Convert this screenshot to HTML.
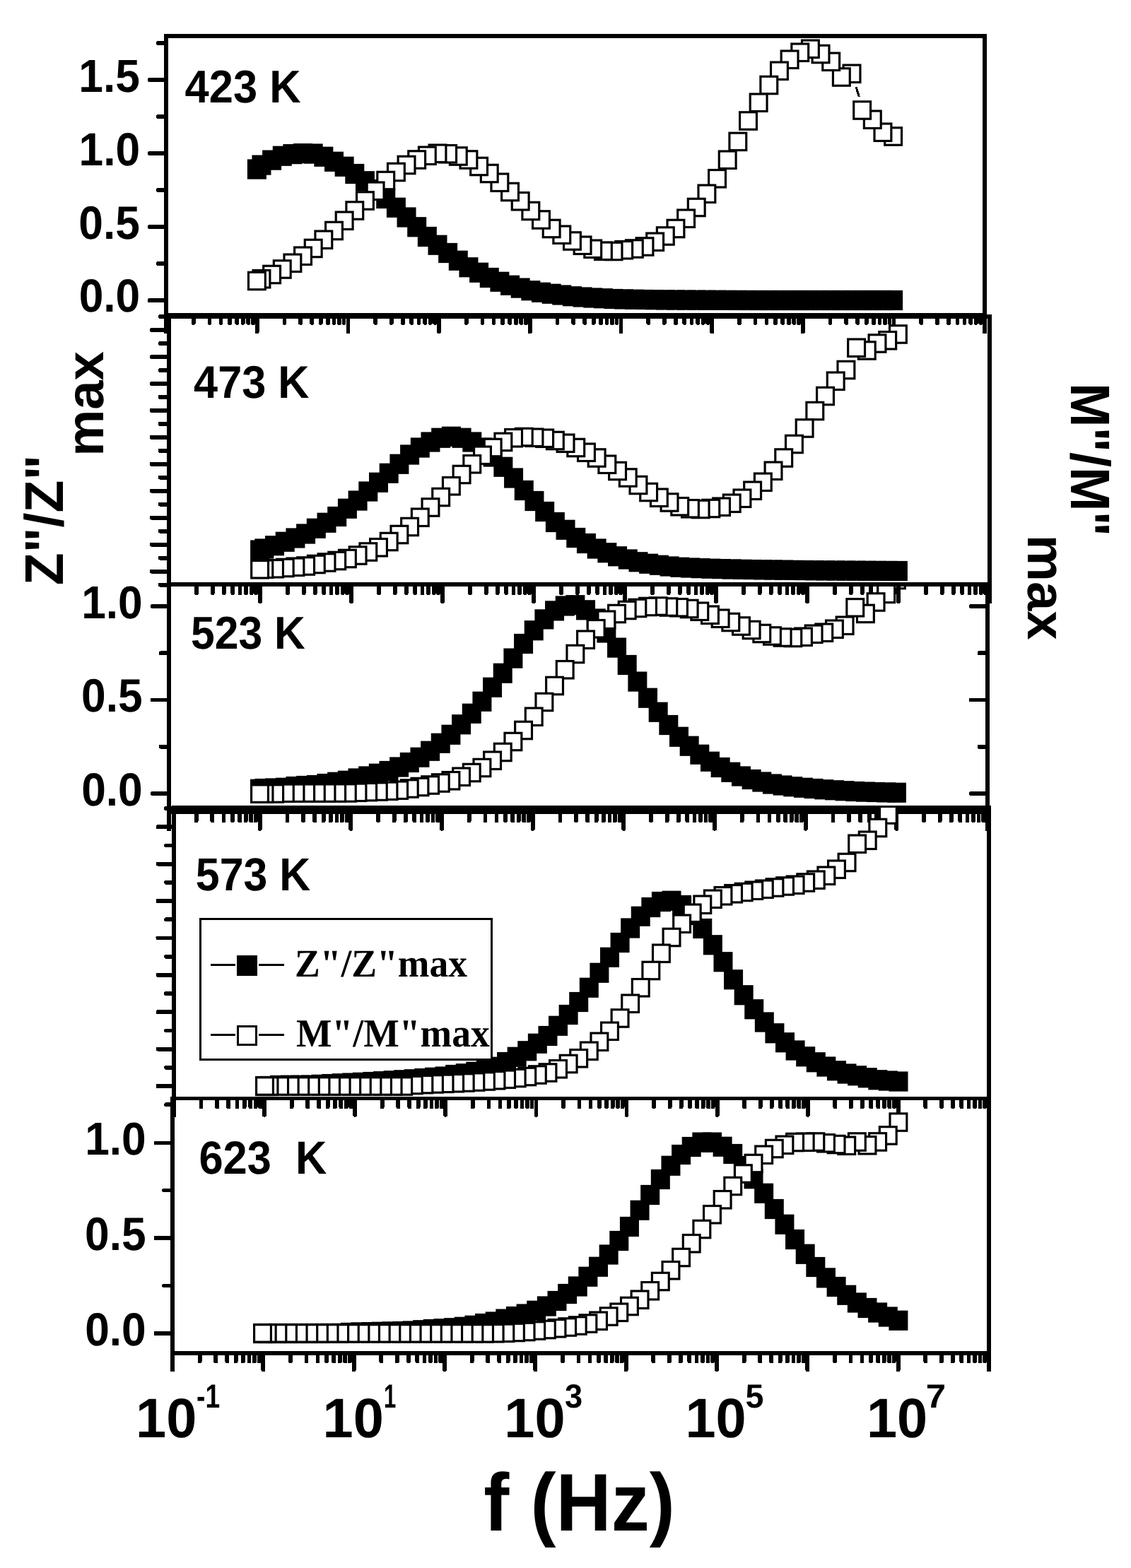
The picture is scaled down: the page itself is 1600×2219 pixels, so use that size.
<!DOCTYPE html>
<html lang="en"><head><meta charset="utf-8"><title>Z&quot;/Z&quot;max and M&quot;/M&quot;max vs f (Hz)</title>
<style>html,body{margin:0;padding:0;background:#fff}svg{display:block}</style></head>
<body>
<svg width="1600" height="2219" viewBox="0 0 1600 2219" shape-rendering="crispEdges" text-rendering="geometricPrecision">
<defs>
<clipPath id="c3"><rect x="230" y="830" width="1180" height="330"/></clipPath>
<clipPath id="c4"><rect x="230" y="1143" width="1180" height="420"/></clipPath>
</defs>
<rect x="0" y="0" width="1600" height="2219" fill="#fff"/>
<rect x="236.15" y="824.15" width="1163.70" height="5.70" fill="#000" />
<rect x="236.15" y="1146.15" width="1163.70" height="5.70" fill="#000" />
<rect x="236.15" y="824.15" width="5.70" height="351.45" fill="#000" />
<rect x="1394.15" y="824.15" width="5.70" height="351.45" fill="#000" />
<rect x="364.77" y="1149.00" width="5.80" height="26.60" rx="2" ry="2" fill="#000"/>
<rect x="493.44" y="1149.00" width="5.80" height="26.60" rx="2" ry="2" fill="#000"/>
<rect x="622.11" y="1149.00" width="5.80" height="26.60" rx="2" ry="2" fill="#000"/>
<rect x="750.78" y="1149.00" width="5.80" height="26.60" rx="2" ry="2" fill="#000"/>
<rect x="879.45" y="1149.00" width="5.80" height="26.60" rx="2" ry="2" fill="#000"/>
<rect x="1008.12" y="1149.00" width="5.80" height="26.60" rx="2" ry="2" fill="#000"/>
<rect x="1136.79" y="1149.00" width="5.80" height="26.60" rx="2" ry="2" fill="#000"/>
<rect x="274.83" y="1149.00" width="5.80" height="15.00" rx="2" ry="2" fill="#000"/>
<rect x="297.49" y="1149.00" width="5.80" height="15.00" rx="2" ry="2" fill="#000"/>
<rect x="313.57" y="1149.00" width="5.80" height="15.00" rx="2" ry="2" fill="#000"/>
<rect x="326.04" y="1149.00" width="5.80" height="15.00" rx="2" ry="2" fill="#000"/>
<rect x="336.22" y="1149.00" width="5.80" height="15.00" rx="2" ry="2" fill="#000"/>
<rect x="344.84" y="1149.00" width="5.80" height="15.00" rx="2" ry="2" fill="#000"/>
<rect x="352.30" y="1149.00" width="5.80" height="15.00" rx="2" ry="2" fill="#000"/>
<rect x="358.88" y="1149.00" width="5.80" height="15.00" rx="2" ry="2" fill="#000"/>
<rect x="403.50" y="1149.00" width="5.80" height="15.00" rx="2" ry="2" fill="#000"/>
<rect x="426.16" y="1149.00" width="5.80" height="15.00" rx="2" ry="2" fill="#000"/>
<rect x="442.24" y="1149.00" width="5.80" height="15.00" rx="2" ry="2" fill="#000"/>
<rect x="454.71" y="1149.00" width="5.80" height="15.00" rx="2" ry="2" fill="#000"/>
<rect x="464.89" y="1149.00" width="5.80" height="15.00" rx="2" ry="2" fill="#000"/>
<rect x="473.51" y="1149.00" width="5.80" height="15.00" rx="2" ry="2" fill="#000"/>
<rect x="480.97" y="1149.00" width="5.80" height="15.00" rx="2" ry="2" fill="#000"/>
<rect x="487.55" y="1149.00" width="5.80" height="15.00" rx="2" ry="2" fill="#000"/>
<rect x="532.17" y="1149.00" width="5.80" height="15.00" rx="2" ry="2" fill="#000"/>
<rect x="554.83" y="1149.00" width="5.80" height="15.00" rx="2" ry="2" fill="#000"/>
<rect x="570.91" y="1149.00" width="5.80" height="15.00" rx="2" ry="2" fill="#000"/>
<rect x="583.38" y="1149.00" width="5.80" height="15.00" rx="2" ry="2" fill="#000"/>
<rect x="593.56" y="1149.00" width="5.80" height="15.00" rx="2" ry="2" fill="#000"/>
<rect x="602.18" y="1149.00" width="5.80" height="15.00" rx="2" ry="2" fill="#000"/>
<rect x="609.64" y="1149.00" width="5.80" height="15.00" rx="2" ry="2" fill="#000"/>
<rect x="616.22" y="1149.00" width="5.80" height="15.00" rx="2" ry="2" fill="#000"/>
<rect x="660.84" y="1149.00" width="5.80" height="15.00" rx="2" ry="2" fill="#000"/>
<rect x="683.50" y="1149.00" width="5.80" height="15.00" rx="2" ry="2" fill="#000"/>
<rect x="699.58" y="1149.00" width="5.80" height="15.00" rx="2" ry="2" fill="#000"/>
<rect x="712.05" y="1149.00" width="5.80" height="15.00" rx="2" ry="2" fill="#000"/>
<rect x="722.23" y="1149.00" width="5.80" height="15.00" rx="2" ry="2" fill="#000"/>
<rect x="730.85" y="1149.00" width="5.80" height="15.00" rx="2" ry="2" fill="#000"/>
<rect x="738.31" y="1149.00" width="5.80" height="15.00" rx="2" ry="2" fill="#000"/>
<rect x="744.89" y="1149.00" width="5.80" height="15.00" rx="2" ry="2" fill="#000"/>
<rect x="789.51" y="1149.00" width="5.80" height="15.00" rx="2" ry="2" fill="#000"/>
<rect x="812.17" y="1149.00" width="5.80" height="15.00" rx="2" ry="2" fill="#000"/>
<rect x="828.25" y="1149.00" width="5.80" height="15.00" rx="2" ry="2" fill="#000"/>
<rect x="840.72" y="1149.00" width="5.80" height="15.00" rx="2" ry="2" fill="#000"/>
<rect x="850.90" y="1149.00" width="5.80" height="15.00" rx="2" ry="2" fill="#000"/>
<rect x="859.52" y="1149.00" width="5.80" height="15.00" rx="2" ry="2" fill="#000"/>
<rect x="866.98" y="1149.00" width="5.80" height="15.00" rx="2" ry="2" fill="#000"/>
<rect x="873.56" y="1149.00" width="5.80" height="15.00" rx="2" ry="2" fill="#000"/>
<rect x="918.18" y="1149.00" width="5.80" height="15.00" rx="2" ry="2" fill="#000"/>
<rect x="940.84" y="1149.00" width="5.80" height="15.00" rx="2" ry="2" fill="#000"/>
<rect x="956.92" y="1149.00" width="5.80" height="15.00" rx="2" ry="2" fill="#000"/>
<rect x="969.39" y="1149.00" width="5.80" height="15.00" rx="2" ry="2" fill="#000"/>
<rect x="979.57" y="1149.00" width="5.80" height="15.00" rx="2" ry="2" fill="#000"/>
<rect x="988.19" y="1149.00" width="5.80" height="15.00" rx="2" ry="2" fill="#000"/>
<rect x="995.65" y="1149.00" width="5.80" height="15.00" rx="2" ry="2" fill="#000"/>
<rect x="1002.23" y="1149.00" width="5.80" height="15.00" rx="2" ry="2" fill="#000"/>
<rect x="1046.85" y="1149.00" width="5.80" height="15.00" rx="2" ry="2" fill="#000"/>
<rect x="1069.51" y="1149.00" width="5.80" height="15.00" rx="2" ry="2" fill="#000"/>
<rect x="1085.59" y="1149.00" width="5.80" height="15.00" rx="2" ry="2" fill="#000"/>
<rect x="1098.06" y="1149.00" width="5.80" height="15.00" rx="2" ry="2" fill="#000"/>
<rect x="1108.24" y="1149.00" width="5.80" height="15.00" rx="2" ry="2" fill="#000"/>
<rect x="1116.86" y="1149.00" width="5.80" height="15.00" rx="2" ry="2" fill="#000"/>
<rect x="1124.32" y="1149.00" width="5.80" height="15.00" rx="2" ry="2" fill="#000"/>
<rect x="1130.90" y="1149.00" width="5.80" height="15.00" rx="2" ry="2" fill="#000"/>
<rect x="1175.52" y="1149.00" width="5.80" height="15.00" rx="2" ry="2" fill="#000"/>
<rect x="1198.18" y="1149.00" width="5.80" height="15.00" rx="2" ry="2" fill="#000"/>
<rect x="1214.26" y="1149.00" width="5.80" height="15.00" rx="2" ry="2" fill="#000"/>
<rect x="1226.73" y="1149.00" width="5.80" height="15.00" rx="2" ry="2" fill="#000"/>
<rect x="1236.91" y="1149.00" width="5.80" height="15.00" rx="2" ry="2" fill="#000"/>
<rect x="1245.53" y="1149.00" width="5.80" height="15.00" rx="2" ry="2" fill="#000"/>
<rect x="1252.99" y="1149.00" width="5.80" height="15.00" rx="2" ry="2" fill="#000"/>
<rect x="1259.57" y="1149.00" width="5.80" height="15.00" rx="2" ry="2" fill="#000"/>
<rect x="1304.19" y="1149.00" width="5.80" height="15.00" rx="2" ry="2" fill="#000"/>
<rect x="1326.85" y="1149.00" width="5.80" height="15.00" rx="2" ry="2" fill="#000"/>
<rect x="1342.93" y="1149.00" width="5.80" height="15.00" rx="2" ry="2" fill="#000"/>
<rect x="1355.40" y="1149.00" width="5.80" height="15.00" rx="2" ry="2" fill="#000"/>
<rect x="1365.58" y="1149.00" width="5.80" height="15.00" rx="2" ry="2" fill="#000"/>
<rect x="1374.20" y="1149.00" width="5.80" height="15.00" rx="2" ry="2" fill="#000"/>
<rect x="1381.66" y="1149.00" width="5.80" height="15.00" rx="2" ry="2" fill="#000"/>
<rect x="1388.24" y="1149.00" width="5.80" height="15.00" rx="2" ry="2" fill="#000"/>
<rect x="1265.46" y="1149.00" width="5.80" height="26.60" rx="2" ry="2" fill="#000"/>
<rect x="213.00" y="855.10" width="26.00" height="5.80" rx="2" ry="2" fill="#000"/>
<rect x="213.00" y="987.60" width="26.00" height="5.80" rx="2" ry="2" fill="#000"/>
<rect x="213.00" y="1120.10" width="26.00" height="5.80" rx="2" ry="2" fill="#000"/>
<rect x="225.00" y="921.35" width="14.00" height="5.80" rx="2" ry="2" fill="#000"/>
<rect x="225.00" y="1053.85" width="14.00" height="5.80" rx="2" ry="2" fill="#000"/>
<rect x="1370.75" y="855.10" width="26.25" height="5.80" rx="2" ry="2" fill="#000"/>
<rect x="1370.75" y="987.60" width="26.25" height="5.80" rx="2" ry="2" fill="#000"/>
<rect x="1370.75" y="1120.10" width="26.25" height="5.80" rx="2" ry="2" fill="#000"/>
<rect x="1382.50" y="921.35" width="14.50" height="5.80" rx="2" ry="2" fill="#000"/>
<rect x="1382.50" y="1053.85" width="14.50" height="5.80" rx="2" ry="2" fill="#000"/>
<rect x="232.25" y="48.15" width="1163.70" height="5.70" fill="#000" />
<rect x="232.25" y="442.55" width="1163.70" height="5.70" fill="#000" />
<rect x="232.25" y="48.15" width="5.70" height="423.85" fill="#000" />
<rect x="1390.25" y="48.15" width="5.70" height="423.85" fill="#000" />
<rect x="360.87" y="445.40" width="5.80" height="26.60" rx="2" ry="2" fill="#000"/>
<rect x="489.54" y="445.40" width="5.80" height="26.60" rx="2" ry="2" fill="#000"/>
<rect x="618.21" y="445.40" width="5.80" height="26.60" rx="2" ry="2" fill="#000"/>
<rect x="746.88" y="445.40" width="5.80" height="26.60" rx="2" ry="2" fill="#000"/>
<rect x="875.55" y="445.40" width="5.80" height="26.60" rx="2" ry="2" fill="#000"/>
<rect x="1004.22" y="445.40" width="5.80" height="26.60" rx="2" ry="2" fill="#000"/>
<rect x="1132.89" y="445.40" width="5.80" height="26.60" rx="2" ry="2" fill="#000"/>
<rect x="270.93" y="445.40" width="5.80" height="14.35" rx="2" ry="2" fill="#000"/>
<rect x="293.59" y="445.40" width="5.80" height="14.35" rx="2" ry="2" fill="#000"/>
<rect x="309.67" y="445.40" width="5.80" height="14.35" rx="2" ry="2" fill="#000"/>
<rect x="322.14" y="445.40" width="5.80" height="14.35" rx="2" ry="2" fill="#000"/>
<rect x="332.32" y="445.40" width="5.80" height="14.35" rx="2" ry="2" fill="#000"/>
<rect x="340.94" y="445.40" width="5.80" height="14.35" rx="2" ry="2" fill="#000"/>
<rect x="348.40" y="445.40" width="5.80" height="14.35" rx="2" ry="2" fill="#000"/>
<rect x="354.98" y="445.40" width="5.80" height="14.35" rx="2" ry="2" fill="#000"/>
<rect x="399.60" y="445.40" width="5.80" height="14.35" rx="2" ry="2" fill="#000"/>
<rect x="422.26" y="445.40" width="5.80" height="14.35" rx="2" ry="2" fill="#000"/>
<rect x="438.34" y="445.40" width="5.80" height="14.35" rx="2" ry="2" fill="#000"/>
<rect x="450.81" y="445.40" width="5.80" height="14.35" rx="2" ry="2" fill="#000"/>
<rect x="460.99" y="445.40" width="5.80" height="14.35" rx="2" ry="2" fill="#000"/>
<rect x="469.61" y="445.40" width="5.80" height="14.35" rx="2" ry="2" fill="#000"/>
<rect x="477.07" y="445.40" width="5.80" height="14.35" rx="2" ry="2" fill="#000"/>
<rect x="483.65" y="445.40" width="5.80" height="14.35" rx="2" ry="2" fill="#000"/>
<rect x="528.27" y="445.40" width="5.80" height="14.35" rx="2" ry="2" fill="#000"/>
<rect x="550.93" y="445.40" width="5.80" height="14.35" rx="2" ry="2" fill="#000"/>
<rect x="567.01" y="445.40" width="5.80" height="14.35" rx="2" ry="2" fill="#000"/>
<rect x="579.48" y="445.40" width="5.80" height="14.35" rx="2" ry="2" fill="#000"/>
<rect x="589.66" y="445.40" width="5.80" height="14.35" rx="2" ry="2" fill="#000"/>
<rect x="598.28" y="445.40" width="5.80" height="14.35" rx="2" ry="2" fill="#000"/>
<rect x="605.74" y="445.40" width="5.80" height="14.35" rx="2" ry="2" fill="#000"/>
<rect x="612.32" y="445.40" width="5.80" height="14.35" rx="2" ry="2" fill="#000"/>
<rect x="656.94" y="445.40" width="5.80" height="14.35" rx="2" ry="2" fill="#000"/>
<rect x="679.60" y="445.40" width="5.80" height="14.35" rx="2" ry="2" fill="#000"/>
<rect x="695.68" y="445.40" width="5.80" height="14.35" rx="2" ry="2" fill="#000"/>
<rect x="708.15" y="445.40" width="5.80" height="14.35" rx="2" ry="2" fill="#000"/>
<rect x="718.33" y="445.40" width="5.80" height="14.35" rx="2" ry="2" fill="#000"/>
<rect x="726.95" y="445.40" width="5.80" height="14.35" rx="2" ry="2" fill="#000"/>
<rect x="734.41" y="445.40" width="5.80" height="14.35" rx="2" ry="2" fill="#000"/>
<rect x="740.99" y="445.40" width="5.80" height="14.35" rx="2" ry="2" fill="#000"/>
<rect x="785.61" y="445.40" width="5.80" height="14.35" rx="2" ry="2" fill="#000"/>
<rect x="808.27" y="445.40" width="5.80" height="14.35" rx="2" ry="2" fill="#000"/>
<rect x="824.35" y="445.40" width="5.80" height="14.35" rx="2" ry="2" fill="#000"/>
<rect x="836.82" y="445.40" width="5.80" height="14.35" rx="2" ry="2" fill="#000"/>
<rect x="847.00" y="445.40" width="5.80" height="14.35" rx="2" ry="2" fill="#000"/>
<rect x="855.62" y="445.40" width="5.80" height="14.35" rx="2" ry="2" fill="#000"/>
<rect x="863.08" y="445.40" width="5.80" height="14.35" rx="2" ry="2" fill="#000"/>
<rect x="869.66" y="445.40" width="5.80" height="14.35" rx="2" ry="2" fill="#000"/>
<rect x="914.28" y="445.40" width="5.80" height="14.35" rx="2" ry="2" fill="#000"/>
<rect x="936.94" y="445.40" width="5.80" height="14.35" rx="2" ry="2" fill="#000"/>
<rect x="953.02" y="445.40" width="5.80" height="14.35" rx="2" ry="2" fill="#000"/>
<rect x="965.49" y="445.40" width="5.80" height="14.35" rx="2" ry="2" fill="#000"/>
<rect x="975.67" y="445.40" width="5.80" height="14.35" rx="2" ry="2" fill="#000"/>
<rect x="984.29" y="445.40" width="5.80" height="14.35" rx="2" ry="2" fill="#000"/>
<rect x="991.75" y="445.40" width="5.80" height="14.35" rx="2" ry="2" fill="#000"/>
<rect x="998.33" y="445.40" width="5.80" height="14.35" rx="2" ry="2" fill="#000"/>
<rect x="1042.95" y="445.40" width="5.80" height="14.35" rx="2" ry="2" fill="#000"/>
<rect x="1065.61" y="445.40" width="5.80" height="14.35" rx="2" ry="2" fill="#000"/>
<rect x="1081.69" y="445.40" width="5.80" height="14.35" rx="2" ry="2" fill="#000"/>
<rect x="1094.16" y="445.40" width="5.80" height="14.35" rx="2" ry="2" fill="#000"/>
<rect x="1104.34" y="445.40" width="5.80" height="14.35" rx="2" ry="2" fill="#000"/>
<rect x="1112.96" y="445.40" width="5.80" height="14.35" rx="2" ry="2" fill="#000"/>
<rect x="1120.42" y="445.40" width="5.80" height="14.35" rx="2" ry="2" fill="#000"/>
<rect x="1127.00" y="445.40" width="5.80" height="14.35" rx="2" ry="2" fill="#000"/>
<rect x="1171.62" y="445.40" width="5.80" height="14.35" rx="2" ry="2" fill="#000"/>
<rect x="1194.28" y="445.40" width="5.80" height="14.35" rx="2" ry="2" fill="#000"/>
<rect x="1210.36" y="445.40" width="5.80" height="14.35" rx="2" ry="2" fill="#000"/>
<rect x="1222.83" y="445.40" width="5.80" height="14.35" rx="2" ry="2" fill="#000"/>
<rect x="1233.01" y="445.40" width="5.80" height="14.35" rx="2" ry="2" fill="#000"/>
<rect x="1241.63" y="445.40" width="5.80" height="14.35" rx="2" ry="2" fill="#000"/>
<rect x="1249.09" y="445.40" width="5.80" height="14.35" rx="2" ry="2" fill="#000"/>
<rect x="1255.67" y="445.40" width="5.80" height="14.35" rx="2" ry="2" fill="#000"/>
<rect x="1300.29" y="445.40" width="5.80" height="14.35" rx="2" ry="2" fill="#000"/>
<rect x="1322.95" y="445.40" width="5.80" height="14.35" rx="2" ry="2" fill="#000"/>
<rect x="1339.03" y="445.40" width="5.80" height="14.35" rx="2" ry="2" fill="#000"/>
<rect x="1351.50" y="445.40" width="5.80" height="14.35" rx="2" ry="2" fill="#000"/>
<rect x="1361.68" y="445.40" width="5.80" height="14.35" rx="2" ry="2" fill="#000"/>
<rect x="1370.30" y="445.40" width="5.80" height="14.35" rx="2" ry="2" fill="#000"/>
<rect x="1377.76" y="445.40" width="5.80" height="14.35" rx="2" ry="2" fill="#000"/>
<rect x="1384.34" y="445.40" width="5.80" height="14.35" rx="2" ry="2" fill="#000"/>
<rect x="1261.56" y="445.40" width="5.80" height="26.60" rx="2" ry="2" fill="#000"/>
<rect x="209.00" y="110.10" width="26.10" height="5.80" rx="2" ry="2" fill="#000"/>
<rect x="209.00" y="214.10" width="26.10" height="5.80" rx="2" ry="2" fill="#000"/>
<rect x="209.00" y="318.10" width="26.10" height="5.80" rx="2" ry="2" fill="#000"/>
<rect x="209.00" y="422.20" width="26.10" height="5.80" rx="2" ry="2" fill="#000"/>
<rect x="221.00" y="58.10" width="14.10" height="5.80" rx="2" ry="2" fill="#000"/>
<rect x="221.00" y="162.10" width="14.10" height="5.80" rx="2" ry="2" fill="#000"/>
<rect x="221.00" y="266.10" width="14.10" height="5.80" rx="2" ry="2" fill="#000"/>
<rect x="221.00" y="370.10" width="14.10" height="5.80" rx="2" ry="2" fill="#000"/>
<rect x="236.25" y="445.15" width="1166.60" height="5.70" fill="#000" />
<rect x="236.25" y="824.15" width="1166.60" height="5.70" fill="#000" />
<rect x="236.25" y="445.15" width="5.70" height="408.60" fill="#000" />
<rect x="1397.15" y="445.15" width="5.70" height="408.60" fill="#000" />
<rect x="365.20" y="827.00" width="5.80" height="26.75" rx="2" ry="2" fill="#000"/>
<rect x="494.20" y="827.00" width="5.80" height="26.75" rx="2" ry="2" fill="#000"/>
<rect x="623.20" y="827.00" width="5.80" height="26.75" rx="2" ry="2" fill="#000"/>
<rect x="752.20" y="827.00" width="5.80" height="26.75" rx="2" ry="2" fill="#000"/>
<rect x="881.20" y="827.00" width="5.80" height="26.75" rx="2" ry="2" fill="#000"/>
<rect x="1010.20" y="827.00" width="5.80" height="26.75" rx="2" ry="2" fill="#000"/>
<rect x="1139.20" y="827.00" width="5.80" height="26.75" rx="2" ry="2" fill="#000"/>
<rect x="275.03" y="827.00" width="5.80" height="14.90" rx="2" ry="2" fill="#000"/>
<rect x="297.75" y="827.00" width="5.80" height="14.90" rx="2" ry="2" fill="#000"/>
<rect x="313.87" y="827.00" width="5.80" height="14.90" rx="2" ry="2" fill="#000"/>
<rect x="326.37" y="827.00" width="5.80" height="14.90" rx="2" ry="2" fill="#000"/>
<rect x="336.58" y="827.00" width="5.80" height="14.90" rx="2" ry="2" fill="#000"/>
<rect x="345.22" y="827.00" width="5.80" height="14.90" rx="2" ry="2" fill="#000"/>
<rect x="352.70" y="827.00" width="5.80" height="14.90" rx="2" ry="2" fill="#000"/>
<rect x="359.30" y="827.00" width="5.80" height="14.90" rx="2" ry="2" fill="#000"/>
<rect x="404.03" y="827.00" width="5.80" height="14.90" rx="2" ry="2" fill="#000"/>
<rect x="426.75" y="827.00" width="5.80" height="14.90" rx="2" ry="2" fill="#000"/>
<rect x="442.87" y="827.00" width="5.80" height="14.90" rx="2" ry="2" fill="#000"/>
<rect x="455.37" y="827.00" width="5.80" height="14.90" rx="2" ry="2" fill="#000"/>
<rect x="465.58" y="827.00" width="5.80" height="14.90" rx="2" ry="2" fill="#000"/>
<rect x="474.22" y="827.00" width="5.80" height="14.90" rx="2" ry="2" fill="#000"/>
<rect x="481.70" y="827.00" width="5.80" height="14.90" rx="2" ry="2" fill="#000"/>
<rect x="488.30" y="827.00" width="5.80" height="14.90" rx="2" ry="2" fill="#000"/>
<rect x="533.03" y="827.00" width="5.80" height="14.90" rx="2" ry="2" fill="#000"/>
<rect x="555.75" y="827.00" width="5.80" height="14.90" rx="2" ry="2" fill="#000"/>
<rect x="571.87" y="827.00" width="5.80" height="14.90" rx="2" ry="2" fill="#000"/>
<rect x="584.37" y="827.00" width="5.80" height="14.90" rx="2" ry="2" fill="#000"/>
<rect x="594.58" y="827.00" width="5.80" height="14.90" rx="2" ry="2" fill="#000"/>
<rect x="603.22" y="827.00" width="5.80" height="14.90" rx="2" ry="2" fill="#000"/>
<rect x="610.70" y="827.00" width="5.80" height="14.90" rx="2" ry="2" fill="#000"/>
<rect x="617.30" y="827.00" width="5.80" height="14.90" rx="2" ry="2" fill="#000"/>
<rect x="662.03" y="827.00" width="5.80" height="14.90" rx="2" ry="2" fill="#000"/>
<rect x="684.75" y="827.00" width="5.80" height="14.90" rx="2" ry="2" fill="#000"/>
<rect x="700.87" y="827.00" width="5.80" height="14.90" rx="2" ry="2" fill="#000"/>
<rect x="713.37" y="827.00" width="5.80" height="14.90" rx="2" ry="2" fill="#000"/>
<rect x="723.58" y="827.00" width="5.80" height="14.90" rx="2" ry="2" fill="#000"/>
<rect x="732.22" y="827.00" width="5.80" height="14.90" rx="2" ry="2" fill="#000"/>
<rect x="739.70" y="827.00" width="5.80" height="14.90" rx="2" ry="2" fill="#000"/>
<rect x="746.30" y="827.00" width="5.80" height="14.90" rx="2" ry="2" fill="#000"/>
<rect x="791.03" y="827.00" width="5.80" height="14.90" rx="2" ry="2" fill="#000"/>
<rect x="813.75" y="827.00" width="5.80" height="14.90" rx="2" ry="2" fill="#000"/>
<rect x="829.87" y="827.00" width="5.80" height="14.90" rx="2" ry="2" fill="#000"/>
<rect x="842.37" y="827.00" width="5.80" height="14.90" rx="2" ry="2" fill="#000"/>
<rect x="852.58" y="827.00" width="5.80" height="14.90" rx="2" ry="2" fill="#000"/>
<rect x="861.22" y="827.00" width="5.80" height="14.90" rx="2" ry="2" fill="#000"/>
<rect x="868.70" y="827.00" width="5.80" height="14.90" rx="2" ry="2" fill="#000"/>
<rect x="875.30" y="827.00" width="5.80" height="14.90" rx="2" ry="2" fill="#000"/>
<rect x="920.03" y="827.00" width="5.80" height="14.90" rx="2" ry="2" fill="#000"/>
<rect x="942.75" y="827.00" width="5.80" height="14.90" rx="2" ry="2" fill="#000"/>
<rect x="958.87" y="827.00" width="5.80" height="14.90" rx="2" ry="2" fill="#000"/>
<rect x="971.37" y="827.00" width="5.80" height="14.90" rx="2" ry="2" fill="#000"/>
<rect x="981.58" y="827.00" width="5.80" height="14.90" rx="2" ry="2" fill="#000"/>
<rect x="990.22" y="827.00" width="5.80" height="14.90" rx="2" ry="2" fill="#000"/>
<rect x="997.70" y="827.00" width="5.80" height="14.90" rx="2" ry="2" fill="#000"/>
<rect x="1004.30" y="827.00" width="5.80" height="14.90" rx="2" ry="2" fill="#000"/>
<rect x="1049.03" y="827.00" width="5.80" height="14.90" rx="2" ry="2" fill="#000"/>
<rect x="1071.75" y="827.00" width="5.80" height="14.90" rx="2" ry="2" fill="#000"/>
<rect x="1087.87" y="827.00" width="5.80" height="14.90" rx="2" ry="2" fill="#000"/>
<rect x="1100.37" y="827.00" width="5.80" height="14.90" rx="2" ry="2" fill="#000"/>
<rect x="1110.58" y="827.00" width="5.80" height="14.90" rx="2" ry="2" fill="#000"/>
<rect x="1119.22" y="827.00" width="5.80" height="14.90" rx="2" ry="2" fill="#000"/>
<rect x="1126.70" y="827.00" width="5.80" height="14.90" rx="2" ry="2" fill="#000"/>
<rect x="1133.30" y="827.00" width="5.80" height="14.90" rx="2" ry="2" fill="#000"/>
<rect x="1178.03" y="827.00" width="5.80" height="14.90" rx="2" ry="2" fill="#000"/>
<rect x="1200.75" y="827.00" width="5.80" height="14.90" rx="2" ry="2" fill="#000"/>
<rect x="1216.87" y="827.00" width="5.80" height="14.90" rx="2" ry="2" fill="#000"/>
<rect x="1229.37" y="827.00" width="5.80" height="14.90" rx="2" ry="2" fill="#000"/>
<rect x="1239.58" y="827.00" width="5.80" height="14.90" rx="2" ry="2" fill="#000"/>
<rect x="1248.22" y="827.00" width="5.80" height="14.90" rx="2" ry="2" fill="#000"/>
<rect x="1255.70" y="827.00" width="5.80" height="14.90" rx="2" ry="2" fill="#000"/>
<rect x="1262.30" y="827.00" width="5.80" height="14.90" rx="2" ry="2" fill="#000"/>
<rect x="1307.03" y="827.00" width="5.80" height="14.90" rx="2" ry="2" fill="#000"/>
<rect x="1329.75" y="827.00" width="5.80" height="14.90" rx="2" ry="2" fill="#000"/>
<rect x="1345.87" y="827.00" width="5.80" height="14.90" rx="2" ry="2" fill="#000"/>
<rect x="1358.37" y="827.00" width="5.80" height="14.90" rx="2" ry="2" fill="#000"/>
<rect x="1368.58" y="827.00" width="5.80" height="14.90" rx="2" ry="2" fill="#000"/>
<rect x="1377.22" y="827.00" width="5.80" height="14.90" rx="2" ry="2" fill="#000"/>
<rect x="1384.70" y="827.00" width="5.80" height="14.90" rx="2" ry="2" fill="#000"/>
<rect x="1391.30" y="827.00" width="5.80" height="14.90" rx="2" ry="2" fill="#000"/>
<rect x="1268.20" y="827.00" width="5.80" height="26.75" rx="2" ry="2" fill="#000"/>
<rect x="212.00" y="464.08" width="27.10" height="5.80" rx="2" ry="2" fill="#000"/>
<rect x="212.00" y="502.04" width="27.10" height="5.80" rx="2" ry="2" fill="#000"/>
<rect x="212.00" y="540.00" width="27.10" height="5.80" rx="2" ry="2" fill="#000"/>
<rect x="212.00" y="577.96" width="27.10" height="5.80" rx="2" ry="2" fill="#000"/>
<rect x="212.00" y="615.92" width="27.10" height="5.80" rx="2" ry="2" fill="#000"/>
<rect x="212.00" y="653.88" width="27.10" height="5.80" rx="2" ry="2" fill="#000"/>
<rect x="212.00" y="691.84" width="27.10" height="5.80" rx="2" ry="2" fill="#000"/>
<rect x="212.00" y="729.80" width="27.10" height="5.80" rx="2" ry="2" fill="#000"/>
<rect x="212.00" y="767.76" width="27.10" height="5.80" rx="2" ry="2" fill="#000"/>
<rect x="212.00" y="805.72" width="27.10" height="5.80" rx="2" ry="2" fill="#000"/>
<rect x="224.00" y="445.10" width="15.10" height="5.80" rx="2" ry="2" fill="#000"/>
<rect x="224.00" y="483.06" width="15.10" height="5.80" rx="2" ry="2" fill="#000"/>
<rect x="224.00" y="521.02" width="15.10" height="5.80" rx="2" ry="2" fill="#000"/>
<rect x="224.00" y="558.98" width="15.10" height="5.80" rx="2" ry="2" fill="#000"/>
<rect x="224.00" y="596.94" width="15.10" height="5.80" rx="2" ry="2" fill="#000"/>
<rect x="224.00" y="634.90" width="15.10" height="5.80" rx="2" ry="2" fill="#000"/>
<rect x="224.00" y="672.86" width="15.10" height="5.80" rx="2" ry="2" fill="#000"/>
<rect x="224.00" y="710.82" width="15.10" height="5.80" rx="2" ry="2" fill="#000"/>
<rect x="224.00" y="748.78" width="15.10" height="5.80" rx="2" ry="2" fill="#000"/>
<rect x="224.00" y="786.74" width="15.10" height="5.80" rx="2" ry="2" fill="#000"/>
<rect x="224.00" y="824.70" width="15.10" height="5.80" rx="2" ry="2" fill="#000"/>
<rect x="243.15" y="1140.45" width="1158.70" height="5.70" fill="#000" />
<rect x="243.15" y="1551.55" width="1158.70" height="5.70" fill="#000" />
<rect x="243.15" y="1140.45" width="5.70" height="440.15" fill="#000" />
<rect x="1396.15" y="1140.45" width="5.70" height="440.15" fill="#000" />
<rect x="371.20" y="1554.40" width="5.80" height="26.20" rx="2" ry="2" fill="#000"/>
<rect x="499.30" y="1554.40" width="5.80" height="26.20" rx="2" ry="2" fill="#000"/>
<rect x="627.40" y="1554.40" width="5.80" height="26.20" rx="2" ry="2" fill="#000"/>
<rect x="755.50" y="1554.40" width="5.80" height="26.20" rx="2" ry="2" fill="#000"/>
<rect x="883.60" y="1554.40" width="5.80" height="26.20" rx="2" ry="2" fill="#000"/>
<rect x="1011.70" y="1554.40" width="5.80" height="26.20" rx="2" ry="2" fill="#000"/>
<rect x="1139.80" y="1554.40" width="5.80" height="26.20" rx="2" ry="2" fill="#000"/>
<rect x="281.66" y="1554.40" width="5.80" height="14.60" rx="2" ry="2" fill="#000"/>
<rect x="304.22" y="1554.40" width="5.80" height="14.60" rx="2" ry="2" fill="#000"/>
<rect x="320.22" y="1554.40" width="5.80" height="14.60" rx="2" ry="2" fill="#000"/>
<rect x="332.64" y="1554.40" width="5.80" height="14.60" rx="2" ry="2" fill="#000"/>
<rect x="342.78" y="1554.40" width="5.80" height="14.60" rx="2" ry="2" fill="#000"/>
<rect x="351.36" y="1554.40" width="5.80" height="14.60" rx="2" ry="2" fill="#000"/>
<rect x="358.79" y="1554.40" width="5.80" height="14.60" rx="2" ry="2" fill="#000"/>
<rect x="365.34" y="1554.40" width="5.80" height="14.60" rx="2" ry="2" fill="#000"/>
<rect x="409.76" y="1554.40" width="5.80" height="14.60" rx="2" ry="2" fill="#000"/>
<rect x="432.32" y="1554.40" width="5.80" height="14.60" rx="2" ry="2" fill="#000"/>
<rect x="448.32" y="1554.40" width="5.80" height="14.60" rx="2" ry="2" fill="#000"/>
<rect x="460.74" y="1554.40" width="5.80" height="14.60" rx="2" ry="2" fill="#000"/>
<rect x="470.88" y="1554.40" width="5.80" height="14.60" rx="2" ry="2" fill="#000"/>
<rect x="479.46" y="1554.40" width="5.80" height="14.60" rx="2" ry="2" fill="#000"/>
<rect x="486.89" y="1554.40" width="5.80" height="14.60" rx="2" ry="2" fill="#000"/>
<rect x="493.44" y="1554.40" width="5.80" height="14.60" rx="2" ry="2" fill="#000"/>
<rect x="537.86" y="1554.40" width="5.80" height="14.60" rx="2" ry="2" fill="#000"/>
<rect x="560.42" y="1554.40" width="5.80" height="14.60" rx="2" ry="2" fill="#000"/>
<rect x="576.42" y="1554.40" width="5.80" height="14.60" rx="2" ry="2" fill="#000"/>
<rect x="588.84" y="1554.40" width="5.80" height="14.60" rx="2" ry="2" fill="#000"/>
<rect x="598.98" y="1554.40" width="5.80" height="14.60" rx="2" ry="2" fill="#000"/>
<rect x="607.56" y="1554.40" width="5.80" height="14.60" rx="2" ry="2" fill="#000"/>
<rect x="614.99" y="1554.40" width="5.80" height="14.60" rx="2" ry="2" fill="#000"/>
<rect x="621.54" y="1554.40" width="5.80" height="14.60" rx="2" ry="2" fill="#000"/>
<rect x="665.96" y="1554.40" width="5.80" height="14.60" rx="2" ry="2" fill="#000"/>
<rect x="688.52" y="1554.40" width="5.80" height="14.60" rx="2" ry="2" fill="#000"/>
<rect x="704.52" y="1554.40" width="5.80" height="14.60" rx="2" ry="2" fill="#000"/>
<rect x="716.94" y="1554.40" width="5.80" height="14.60" rx="2" ry="2" fill="#000"/>
<rect x="727.08" y="1554.40" width="5.80" height="14.60" rx="2" ry="2" fill="#000"/>
<rect x="735.66" y="1554.40" width="5.80" height="14.60" rx="2" ry="2" fill="#000"/>
<rect x="743.09" y="1554.40" width="5.80" height="14.60" rx="2" ry="2" fill="#000"/>
<rect x="749.64" y="1554.40" width="5.80" height="14.60" rx="2" ry="2" fill="#000"/>
<rect x="794.06" y="1554.40" width="5.80" height="14.60" rx="2" ry="2" fill="#000"/>
<rect x="816.62" y="1554.40" width="5.80" height="14.60" rx="2" ry="2" fill="#000"/>
<rect x="832.62" y="1554.40" width="5.80" height="14.60" rx="2" ry="2" fill="#000"/>
<rect x="845.04" y="1554.40" width="5.80" height="14.60" rx="2" ry="2" fill="#000"/>
<rect x="855.18" y="1554.40" width="5.80" height="14.60" rx="2" ry="2" fill="#000"/>
<rect x="863.76" y="1554.40" width="5.80" height="14.60" rx="2" ry="2" fill="#000"/>
<rect x="871.19" y="1554.40" width="5.80" height="14.60" rx="2" ry="2" fill="#000"/>
<rect x="877.74" y="1554.40" width="5.80" height="14.60" rx="2" ry="2" fill="#000"/>
<rect x="922.16" y="1554.40" width="5.80" height="14.60" rx="2" ry="2" fill="#000"/>
<rect x="944.72" y="1554.40" width="5.80" height="14.60" rx="2" ry="2" fill="#000"/>
<rect x="960.72" y="1554.40" width="5.80" height="14.60" rx="2" ry="2" fill="#000"/>
<rect x="973.14" y="1554.40" width="5.80" height="14.60" rx="2" ry="2" fill="#000"/>
<rect x="983.28" y="1554.40" width="5.80" height="14.60" rx="2" ry="2" fill="#000"/>
<rect x="991.86" y="1554.40" width="5.80" height="14.60" rx="2" ry="2" fill="#000"/>
<rect x="999.29" y="1554.40" width="5.80" height="14.60" rx="2" ry="2" fill="#000"/>
<rect x="1005.84" y="1554.40" width="5.80" height="14.60" rx="2" ry="2" fill="#000"/>
<rect x="1050.26" y="1554.40" width="5.80" height="14.60" rx="2" ry="2" fill="#000"/>
<rect x="1072.82" y="1554.40" width="5.80" height="14.60" rx="2" ry="2" fill="#000"/>
<rect x="1088.82" y="1554.40" width="5.80" height="14.60" rx="2" ry="2" fill="#000"/>
<rect x="1101.24" y="1554.40" width="5.80" height="14.60" rx="2" ry="2" fill="#000"/>
<rect x="1111.38" y="1554.40" width="5.80" height="14.60" rx="2" ry="2" fill="#000"/>
<rect x="1119.96" y="1554.40" width="5.80" height="14.60" rx="2" ry="2" fill="#000"/>
<rect x="1127.39" y="1554.40" width="5.80" height="14.60" rx="2" ry="2" fill="#000"/>
<rect x="1133.94" y="1554.40" width="5.80" height="14.60" rx="2" ry="2" fill="#000"/>
<rect x="1178.36" y="1554.40" width="5.80" height="14.60" rx="2" ry="2" fill="#000"/>
<rect x="1200.92" y="1554.40" width="5.80" height="14.60" rx="2" ry="2" fill="#000"/>
<rect x="1216.92" y="1554.40" width="5.80" height="14.60" rx="2" ry="2" fill="#000"/>
<rect x="1229.34" y="1554.40" width="5.80" height="14.60" rx="2" ry="2" fill="#000"/>
<rect x="1239.48" y="1554.40" width="5.80" height="14.60" rx="2" ry="2" fill="#000"/>
<rect x="1248.06" y="1554.40" width="5.80" height="14.60" rx="2" ry="2" fill="#000"/>
<rect x="1255.49" y="1554.40" width="5.80" height="14.60" rx="2" ry="2" fill="#000"/>
<rect x="1262.04" y="1554.40" width="5.80" height="14.60" rx="2" ry="2" fill="#000"/>
<rect x="1306.46" y="1554.40" width="5.80" height="14.60" rx="2" ry="2" fill="#000"/>
<rect x="1329.02" y="1554.40" width="5.80" height="14.60" rx="2" ry="2" fill="#000"/>
<rect x="1345.02" y="1554.40" width="5.80" height="14.60" rx="2" ry="2" fill="#000"/>
<rect x="1357.44" y="1554.40" width="5.80" height="14.60" rx="2" ry="2" fill="#000"/>
<rect x="1367.58" y="1554.40" width="5.80" height="14.60" rx="2" ry="2" fill="#000"/>
<rect x="1376.16" y="1554.40" width="5.80" height="14.60" rx="2" ry="2" fill="#000"/>
<rect x="1383.59" y="1554.40" width="5.80" height="14.60" rx="2" ry="2" fill="#000"/>
<rect x="1390.14" y="1554.40" width="5.80" height="14.60" rx="2" ry="2" fill="#000"/>
<rect x="1267.90" y="1554.40" width="5.80" height="26.20" rx="2" ry="2" fill="#000"/>
<rect x="220.50" y="1167.30" width="25.50" height="5.80" rx="2" ry="2" fill="#000"/>
<rect x="220.50" y="1219.70" width="25.50" height="5.80" rx="2" ry="2" fill="#000"/>
<rect x="220.50" y="1272.10" width="25.50" height="5.80" rx="2" ry="2" fill="#000"/>
<rect x="220.50" y="1324.50" width="25.50" height="5.80" rx="2" ry="2" fill="#000"/>
<rect x="220.50" y="1376.90" width="25.50" height="5.80" rx="2" ry="2" fill="#000"/>
<rect x="220.50" y="1429.30" width="25.50" height="5.80" rx="2" ry="2" fill="#000"/>
<rect x="220.50" y="1481.70" width="25.50" height="5.80" rx="2" ry="2" fill="#000"/>
<rect x="220.50" y="1534.10" width="25.50" height="5.80" rx="2" ry="2" fill="#000"/>
<rect x="232.25" y="1141.10" width="13.75" height="5.80" rx="2" ry="2" fill="#000"/>
<rect x="232.25" y="1193.50" width="13.75" height="5.80" rx="2" ry="2" fill="#000"/>
<rect x="232.25" y="1245.90" width="13.75" height="5.80" rx="2" ry="2" fill="#000"/>
<rect x="232.25" y="1298.30" width="13.75" height="5.80" rx="2" ry="2" fill="#000"/>
<rect x="232.25" y="1350.70" width="13.75" height="5.80" rx="2" ry="2" fill="#000"/>
<rect x="232.25" y="1403.10" width="13.75" height="5.80" rx="2" ry="2" fill="#000"/>
<rect x="232.25" y="1455.50" width="13.75" height="5.80" rx="2" ry="2" fill="#000"/>
<rect x="232.25" y="1507.90" width="13.75" height="5.80" rx="2" ry="2" fill="#000"/>
<rect x="232.25" y="1560.30" width="13.75" height="5.80" rx="2" ry="2" fill="#000"/>
<rect x="241.15" y="1912.15" width="1160.70" height="5.70" fill="#000" />
<rect x="241.15" y="1551.55" width="5.70" height="389.45" fill="#000" />
<rect x="1396.15" y="1551.55" width="5.70" height="389.45" fill="#000" />
<rect x="369.43" y="1915.00" width="5.80" height="26.00" rx="2" ry="2" fill="#000"/>
<rect x="497.76" y="1915.00" width="5.80" height="26.00" rx="2" ry="2" fill="#000"/>
<rect x="626.09" y="1915.00" width="5.80" height="26.00" rx="2" ry="2" fill="#000"/>
<rect x="754.42" y="1915.00" width="5.80" height="26.00" rx="2" ry="2" fill="#000"/>
<rect x="882.75" y="1915.00" width="5.80" height="26.00" rx="2" ry="2" fill="#000"/>
<rect x="1011.08" y="1915.00" width="5.80" height="26.00" rx="2" ry="2" fill="#000"/>
<rect x="1139.41" y="1915.00" width="5.80" height="26.00" rx="2" ry="2" fill="#000"/>
<rect x="279.73" y="1915.00" width="5.80" height="14.00" rx="2" ry="2" fill="#000"/>
<rect x="302.33" y="1915.00" width="5.80" height="14.00" rx="2" ry="2" fill="#000"/>
<rect x="318.36" y="1915.00" width="5.80" height="14.00" rx="2" ry="2" fill="#000"/>
<rect x="330.80" y="1915.00" width="5.80" height="14.00" rx="2" ry="2" fill="#000"/>
<rect x="340.96" y="1915.00" width="5.80" height="14.00" rx="2" ry="2" fill="#000"/>
<rect x="349.55" y="1915.00" width="5.80" height="14.00" rx="2" ry="2" fill="#000"/>
<rect x="356.99" y="1915.00" width="5.80" height="14.00" rx="2" ry="2" fill="#000"/>
<rect x="363.56" y="1915.00" width="5.80" height="14.00" rx="2" ry="2" fill="#000"/>
<rect x="408.06" y="1915.00" width="5.80" height="14.00" rx="2" ry="2" fill="#000"/>
<rect x="430.66" y="1915.00" width="5.80" height="14.00" rx="2" ry="2" fill="#000"/>
<rect x="446.69" y="1915.00" width="5.80" height="14.00" rx="2" ry="2" fill="#000"/>
<rect x="459.13" y="1915.00" width="5.80" height="14.00" rx="2" ry="2" fill="#000"/>
<rect x="469.29" y="1915.00" width="5.80" height="14.00" rx="2" ry="2" fill="#000"/>
<rect x="477.88" y="1915.00" width="5.80" height="14.00" rx="2" ry="2" fill="#000"/>
<rect x="485.32" y="1915.00" width="5.80" height="14.00" rx="2" ry="2" fill="#000"/>
<rect x="491.89" y="1915.00" width="5.80" height="14.00" rx="2" ry="2" fill="#000"/>
<rect x="536.39" y="1915.00" width="5.80" height="14.00" rx="2" ry="2" fill="#000"/>
<rect x="558.99" y="1915.00" width="5.80" height="14.00" rx="2" ry="2" fill="#000"/>
<rect x="575.02" y="1915.00" width="5.80" height="14.00" rx="2" ry="2" fill="#000"/>
<rect x="587.46" y="1915.00" width="5.80" height="14.00" rx="2" ry="2" fill="#000"/>
<rect x="597.62" y="1915.00" width="5.80" height="14.00" rx="2" ry="2" fill="#000"/>
<rect x="606.21" y="1915.00" width="5.80" height="14.00" rx="2" ry="2" fill="#000"/>
<rect x="613.65" y="1915.00" width="5.80" height="14.00" rx="2" ry="2" fill="#000"/>
<rect x="620.22" y="1915.00" width="5.80" height="14.00" rx="2" ry="2" fill="#000"/>
<rect x="664.72" y="1915.00" width="5.80" height="14.00" rx="2" ry="2" fill="#000"/>
<rect x="687.32" y="1915.00" width="5.80" height="14.00" rx="2" ry="2" fill="#000"/>
<rect x="703.35" y="1915.00" width="5.80" height="14.00" rx="2" ry="2" fill="#000"/>
<rect x="715.79" y="1915.00" width="5.80" height="14.00" rx="2" ry="2" fill="#000"/>
<rect x="725.95" y="1915.00" width="5.80" height="14.00" rx="2" ry="2" fill="#000"/>
<rect x="734.54" y="1915.00" width="5.80" height="14.00" rx="2" ry="2" fill="#000"/>
<rect x="741.98" y="1915.00" width="5.80" height="14.00" rx="2" ry="2" fill="#000"/>
<rect x="748.55" y="1915.00" width="5.80" height="14.00" rx="2" ry="2" fill="#000"/>
<rect x="793.05" y="1915.00" width="5.80" height="14.00" rx="2" ry="2" fill="#000"/>
<rect x="815.65" y="1915.00" width="5.80" height="14.00" rx="2" ry="2" fill="#000"/>
<rect x="831.68" y="1915.00" width="5.80" height="14.00" rx="2" ry="2" fill="#000"/>
<rect x="844.12" y="1915.00" width="5.80" height="14.00" rx="2" ry="2" fill="#000"/>
<rect x="854.28" y="1915.00" width="5.80" height="14.00" rx="2" ry="2" fill="#000"/>
<rect x="862.87" y="1915.00" width="5.80" height="14.00" rx="2" ry="2" fill="#000"/>
<rect x="870.31" y="1915.00" width="5.80" height="14.00" rx="2" ry="2" fill="#000"/>
<rect x="876.88" y="1915.00" width="5.80" height="14.00" rx="2" ry="2" fill="#000"/>
<rect x="921.38" y="1915.00" width="5.80" height="14.00" rx="2" ry="2" fill="#000"/>
<rect x="943.98" y="1915.00" width="5.80" height="14.00" rx="2" ry="2" fill="#000"/>
<rect x="960.01" y="1915.00" width="5.80" height="14.00" rx="2" ry="2" fill="#000"/>
<rect x="972.45" y="1915.00" width="5.80" height="14.00" rx="2" ry="2" fill="#000"/>
<rect x="982.61" y="1915.00" width="5.80" height="14.00" rx="2" ry="2" fill="#000"/>
<rect x="991.20" y="1915.00" width="5.80" height="14.00" rx="2" ry="2" fill="#000"/>
<rect x="998.64" y="1915.00" width="5.80" height="14.00" rx="2" ry="2" fill="#000"/>
<rect x="1005.21" y="1915.00" width="5.80" height="14.00" rx="2" ry="2" fill="#000"/>
<rect x="1049.71" y="1915.00" width="5.80" height="14.00" rx="2" ry="2" fill="#000"/>
<rect x="1072.31" y="1915.00" width="5.80" height="14.00" rx="2" ry="2" fill="#000"/>
<rect x="1088.34" y="1915.00" width="5.80" height="14.00" rx="2" ry="2" fill="#000"/>
<rect x="1100.78" y="1915.00" width="5.80" height="14.00" rx="2" ry="2" fill="#000"/>
<rect x="1110.94" y="1915.00" width="5.80" height="14.00" rx="2" ry="2" fill="#000"/>
<rect x="1119.53" y="1915.00" width="5.80" height="14.00" rx="2" ry="2" fill="#000"/>
<rect x="1126.97" y="1915.00" width="5.80" height="14.00" rx="2" ry="2" fill="#000"/>
<rect x="1133.54" y="1915.00" width="5.80" height="14.00" rx="2" ry="2" fill="#000"/>
<rect x="1178.04" y="1915.00" width="5.80" height="14.00" rx="2" ry="2" fill="#000"/>
<rect x="1200.64" y="1915.00" width="5.80" height="14.00" rx="2" ry="2" fill="#000"/>
<rect x="1216.67" y="1915.00" width="5.80" height="14.00" rx="2" ry="2" fill="#000"/>
<rect x="1229.11" y="1915.00" width="5.80" height="14.00" rx="2" ry="2" fill="#000"/>
<rect x="1239.27" y="1915.00" width="5.80" height="14.00" rx="2" ry="2" fill="#000"/>
<rect x="1247.86" y="1915.00" width="5.80" height="14.00" rx="2" ry="2" fill="#000"/>
<rect x="1255.30" y="1915.00" width="5.80" height="14.00" rx="2" ry="2" fill="#000"/>
<rect x="1261.87" y="1915.00" width="5.80" height="14.00" rx="2" ry="2" fill="#000"/>
<rect x="1306.37" y="1915.00" width="5.80" height="14.00" rx="2" ry="2" fill="#000"/>
<rect x="1328.97" y="1915.00" width="5.80" height="14.00" rx="2" ry="2" fill="#000"/>
<rect x="1345.00" y="1915.00" width="5.80" height="14.00" rx="2" ry="2" fill="#000"/>
<rect x="1357.44" y="1915.00" width="5.80" height="14.00" rx="2" ry="2" fill="#000"/>
<rect x="1367.60" y="1915.00" width="5.80" height="14.00" rx="2" ry="2" fill="#000"/>
<rect x="1376.19" y="1915.00" width="5.80" height="14.00" rx="2" ry="2" fill="#000"/>
<rect x="1383.63" y="1915.00" width="5.80" height="14.00" rx="2" ry="2" fill="#000"/>
<rect x="1390.20" y="1915.00" width="5.80" height="14.00" rx="2" ry="2" fill="#000"/>
<rect x="1267.74" y="1915.00" width="5.80" height="26.00" rx="2" ry="2" fill="#000"/>
<rect x="217.50" y="1614.60" width="26.50" height="5.80" rx="2" ry="2" fill="#000"/>
<rect x="217.50" y="1749.10" width="26.50" height="5.80" rx="2" ry="2" fill="#000"/>
<rect x="217.50" y="1884.10" width="26.50" height="5.80" rx="2" ry="2" fill="#000"/>
<rect x="229.25" y="1681.60" width="14.75" height="5.80" rx="2" ry="2" fill="#000"/>
<rect x="229.25" y="1816.50" width="14.75" height="5.80" rx="2" ry="2" fill="#000"/>
<g clip-path="url(#c3)" shape-rendering="geometricPrecision">
<rect x="1254.90" y="1107.65" width="27.0" height="28.2" fill="#000"/>
<rect x="1240.24" y="1107.30" width="27.0" height="28.2" fill="#000"/>
<rect x="1225.58" y="1106.90" width="27.0" height="28.2" fill="#000"/>
<rect x="1210.91" y="1106.50" width="27.0" height="28.2" fill="#000"/>
<rect x="1196.25" y="1105.90" width="27.0" height="28.2" fill="#000"/>
<rect x="1181.59" y="1105.15" width="27.0" height="28.2" fill="#000"/>
<rect x="1166.93" y="1104.15" width="27.0" height="28.2" fill="#000"/>
<rect x="1152.27" y="1103.15" width="27.0" height="28.2" fill="#000"/>
<rect x="1137.60" y="1101.90" width="27.0" height="28.2" fill="#000"/>
<rect x="1122.94" y="1100.65" width="27.0" height="28.2" fill="#000"/>
<rect x="1108.28" y="1099.15" width="27.0" height="28.2" fill="#000"/>
<rect x="1093.62" y="1097.40" width="27.0" height="28.2" fill="#000"/>
<rect x="1078.96" y="1095.40" width="27.0" height="28.2" fill="#000"/>
<rect x="1064.29" y="1092.40" width="27.0" height="28.2" fill="#000"/>
<rect x="1049.63" y="1088.90" width="27.0" height="28.2" fill="#000"/>
<rect x="1034.97" y="1084.40" width="27.0" height="28.2" fill="#000"/>
<rect x="1020.31" y="1078.65" width="27.0" height="28.2" fill="#000"/>
<rect x="1005.65" y="1071.90" width="27.0" height="28.2" fill="#000"/>
<rect x="990.98" y="1063.65" width="27.0" height="28.2" fill="#000"/>
<rect x="976.32" y="1053.65" width="27.0" height="28.2" fill="#000"/>
<rect x="961.66" y="1041.65" width="27.0" height="28.2" fill="#000"/>
<rect x="947.00" y="1028.65" width="27.0" height="28.2" fill="#000"/>
<rect x="932.34" y="1011.90" width="27.0" height="28.2" fill="#000"/>
<rect x="917.67" y="993.65" width="27.0" height="28.2" fill="#000"/>
<rect x="903.01" y="973.65" width="27.0" height="28.2" fill="#000"/>
<rect x="888.35" y="950.50" width="27.0" height="28.2" fill="#000"/>
<rect x="873.69" y="926.90" width="27.0" height="28.2" fill="#000"/>
<rect x="859.03" y="902.50" width="27.0" height="28.2" fill="#000"/>
<rect x="844.36" y="881.40" width="27.0" height="28.2" fill="#000"/>
<rect x="829.70" y="861.40" width="27.0" height="28.2" fill="#000"/>
<rect x="815.04" y="849.20" width="27.0" height="28.2" fill="#000"/>
<rect x="800.38" y="842.10" width="27.0" height="28.2" fill="#000"/>
<rect x="785.72" y="843.40" width="27.0" height="28.2" fill="#000"/>
<rect x="771.05" y="850.30" width="27.0" height="28.2" fill="#000"/>
<rect x="756.39" y="862.30" width="27.0" height="28.2" fill="#000"/>
<rect x="741.73" y="878.15" width="27.0" height="28.2" fill="#000"/>
<rect x="727.07" y="896.90" width="27.0" height="28.2" fill="#000"/>
<rect x="712.41" y="917.50" width="27.0" height="28.2" fill="#000"/>
<rect x="697.74" y="938.65" width="27.0" height="28.2" fill="#000"/>
<rect x="683.08" y="958.65" width="27.0" height="28.2" fill="#000"/>
<rect x="668.42" y="978.65" width="27.0" height="28.2" fill="#000"/>
<rect x="653.76" y="995.65" width="27.0" height="28.2" fill="#000"/>
<rect x="639.10" y="1011.15" width="27.0" height="28.2" fill="#000"/>
<rect x="624.43" y="1025.65" width="27.0" height="28.2" fill="#000"/>
<rect x="609.77" y="1037.65" width="27.0" height="28.2" fill="#000"/>
<rect x="595.11" y="1048.65" width="27.0" height="28.2" fill="#000"/>
<rect x="580.45" y="1057.65" width="27.0" height="28.2" fill="#000"/>
<rect x="565.79" y="1064.90" width="27.0" height="28.2" fill="#000"/>
<rect x="551.12" y="1071.40" width="27.0" height="28.2" fill="#000"/>
<rect x="536.46" y="1076.90" width="27.0" height="28.2" fill="#000"/>
<rect x="521.80" y="1080.65" width="27.0" height="28.2" fill="#000"/>
<rect x="507.14" y="1084.40" width="27.0" height="28.2" fill="#000"/>
<rect x="492.48" y="1087.40" width="27.0" height="28.2" fill="#000"/>
<rect x="477.81" y="1090.65" width="27.0" height="28.2" fill="#000"/>
<rect x="463.15" y="1092.65" width="27.0" height="28.2" fill="#000"/>
<rect x="448.49" y="1094.90" width="27.0" height="28.2" fill="#000"/>
<rect x="433.83" y="1096.90" width="27.0" height="28.2" fill="#000"/>
<rect x="419.17" y="1097.90" width="27.0" height="28.2" fill="#000"/>
<rect x="404.50" y="1098.90" width="27.0" height="28.2" fill="#000"/>
<rect x="389.84" y="1100.65" width="27.0" height="28.2" fill="#000"/>
<rect x="375.18" y="1101.40" width="27.0" height="28.2" fill="#000"/>
<rect x="360.52" y="1101.90" width="27.0" height="28.2" fill="#000"/>
<rect x="354.00" y="1102.65" width="27.0" height="28.2" fill="#000"/>
</g>
<g clip-path="url(#c3)" shape-rendering="geometricPrecision">
<rect x="1256.48" y="808.38" width="23.85" height="24.45" fill="#fff" stroke="#000" stroke-width="3.15"/>
<rect x="1241.81" y="828.18" width="23.85" height="24.45" fill="#fff" stroke="#000" stroke-width="3.15"/>
<rect x="1227.15" y="839.78" width="23.85" height="24.45" fill="#fff" stroke="#000" stroke-width="3.15"/>
<rect x="1212.49" y="856.18" width="23.85" height="24.45" fill="#fff" stroke="#000" stroke-width="3.15"/>
<rect x="1197.83" y="847.63" width="23.85" height="24.45" fill="#fff" stroke="#000" stroke-width="3.15"/>
<rect x="1183.17" y="873.03" width="23.85" height="24.45" fill="#fff" stroke="#000" stroke-width="3.15"/>
<rect x="1168.50" y="878.03" width="23.85" height="24.45" fill="#fff" stroke="#000" stroke-width="3.15"/>
<rect x="1153.84" y="883.03" width="23.85" height="24.45" fill="#fff" stroke="#000" stroke-width="3.15"/>
<rect x="1139.18" y="885.03" width="23.85" height="24.45" fill="#fff" stroke="#000" stroke-width="3.15"/>
<rect x="1124.52" y="889.03" width="23.85" height="24.45" fill="#fff" stroke="#000" stroke-width="3.15"/>
<rect x="1109.86" y="890.28" width="23.85" height="24.45" fill="#fff" stroke="#000" stroke-width="3.15"/>
<rect x="1095.19" y="889.78" width="23.85" height="24.45" fill="#fff" stroke="#000" stroke-width="3.15"/>
<rect x="1080.53" y="887.78" width="23.85" height="24.45" fill="#fff" stroke="#000" stroke-width="3.15"/>
<rect x="1065.87" y="884.28" width="23.85" height="24.45" fill="#fff" stroke="#000" stroke-width="3.15"/>
<rect x="1051.21" y="879.28" width="23.85" height="24.45" fill="#fff" stroke="#000" stroke-width="3.15"/>
<rect x="1036.55" y="873.78" width="23.85" height="24.45" fill="#fff" stroke="#000" stroke-width="3.15"/>
<rect x="1021.88" y="868.28" width="23.85" height="24.45" fill="#fff" stroke="#000" stroke-width="3.15"/>
<rect x="1007.22" y="863.03" width="23.85" height="24.45" fill="#fff" stroke="#000" stroke-width="3.15"/>
<rect x="992.56" y="858.03" width="23.85" height="24.45" fill="#fff" stroke="#000" stroke-width="3.15"/>
<rect x="977.90" y="853.03" width="23.85" height="24.45" fill="#fff" stroke="#000" stroke-width="3.15"/>
<rect x="963.24" y="849.28" width="23.85" height="24.45" fill="#fff" stroke="#000" stroke-width="3.15"/>
<rect x="948.57" y="847.53" width="23.85" height="24.45" fill="#fff" stroke="#000" stroke-width="3.15"/>
<rect x="933.91" y="846.78" width="23.85" height="24.45" fill="#fff" stroke="#000" stroke-width="3.15"/>
<rect x="919.25" y="845.78" width="23.85" height="24.45" fill="#fff" stroke="#000" stroke-width="3.15"/>
<rect x="904.59" y="846.28" width="23.85" height="24.45" fill="#fff" stroke="#000" stroke-width="3.15"/>
<rect x="889.93" y="848.28" width="23.85" height="24.45" fill="#fff" stroke="#000" stroke-width="3.15"/>
<rect x="875.26" y="851.28" width="23.85" height="24.45" fill="#fff" stroke="#000" stroke-width="3.15"/>
<rect x="860.60" y="856.28" width="23.85" height="24.45" fill="#fff" stroke="#000" stroke-width="3.15"/>
<rect x="845.94" y="865.03" width="23.85" height="24.45" fill="#fff" stroke="#000" stroke-width="3.15"/>
<rect x="831.28" y="877.53" width="23.85" height="24.45" fill="#fff" stroke="#000" stroke-width="3.15"/>
<rect x="816.62" y="893.03" width="23.85" height="24.45" fill="#fff" stroke="#000" stroke-width="3.15"/>
<rect x="801.95" y="913.28" width="23.85" height="24.45" fill="#fff" stroke="#000" stroke-width="3.15"/>
<rect x="787.29" y="935.53" width="23.85" height="24.45" fill="#fff" stroke="#000" stroke-width="3.15"/>
<rect x="772.63" y="958.28" width="23.85" height="24.45" fill="#fff" stroke="#000" stroke-width="3.15"/>
<rect x="757.97" y="981.28" width="23.85" height="24.45" fill="#fff" stroke="#000" stroke-width="3.15"/>
<rect x="743.31" y="1002.03" width="23.85" height="24.45" fill="#fff" stroke="#000" stroke-width="3.15"/>
<rect x="728.64" y="1021.28" width="23.85" height="24.45" fill="#fff" stroke="#000" stroke-width="3.15"/>
<rect x="713.98" y="1037.28" width="23.85" height="24.45" fill="#fff" stroke="#000" stroke-width="3.15"/>
<rect x="699.32" y="1052.28" width="23.85" height="24.45" fill="#fff" stroke="#000" stroke-width="3.15"/>
<rect x="684.66" y="1064.03" width="23.85" height="24.45" fill="#fff" stroke="#000" stroke-width="3.15"/>
<rect x="670.00" y="1074.28" width="23.85" height="24.45" fill="#fff" stroke="#000" stroke-width="3.15"/>
<rect x="655.33" y="1081.28" width="23.85" height="24.45" fill="#fff" stroke="#000" stroke-width="3.15"/>
<rect x="640.67" y="1087.03" width="23.85" height="24.45" fill="#fff" stroke="#000" stroke-width="3.15"/>
<rect x="626.01" y="1092.53" width="23.85" height="24.45" fill="#fff" stroke="#000" stroke-width="3.15"/>
<rect x="611.35" y="1095.78" width="23.85" height="24.45" fill="#fff" stroke="#000" stroke-width="3.15"/>
<rect x="596.69" y="1098.78" width="23.85" height="24.45" fill="#fff" stroke="#000" stroke-width="3.15"/>
<rect x="582.02" y="1101.28" width="23.85" height="24.45" fill="#fff" stroke="#000" stroke-width="3.15"/>
<rect x="567.36" y="1103.78" width="23.85" height="24.45" fill="#fff" stroke="#000" stroke-width="3.15"/>
<rect x="552.70" y="1105.98" width="23.85" height="24.45" fill="#fff" stroke="#000" stroke-width="3.15"/>
<rect x="538.04" y="1107.08" width="23.85" height="24.45" fill="#fff" stroke="#000" stroke-width="3.15"/>
<rect x="523.38" y="1107.83" width="23.85" height="24.45" fill="#fff" stroke="#000" stroke-width="3.15"/>
<rect x="508.71" y="1108.44" width="23.85" height="24.45" fill="#fff" stroke="#000" stroke-width="3.15"/>
<rect x="494.05" y="1109.08" width="23.85" height="24.45" fill="#fff" stroke="#000" stroke-width="3.15"/>
<rect x="479.39" y="1109.78" width="23.85" height="24.45" fill="#fff" stroke="#000" stroke-width="3.15"/>
<rect x="464.73" y="1109.86" width="23.85" height="24.45" fill="#fff" stroke="#000" stroke-width="3.15"/>
<rect x="450.06" y="1109.91" width="23.85" height="24.45" fill="#fff" stroke="#000" stroke-width="3.15"/>
<rect x="435.40" y="1109.93" width="23.85" height="24.45" fill="#fff" stroke="#000" stroke-width="3.15"/>
<rect x="420.74" y="1109.94" width="23.85" height="24.45" fill="#fff" stroke="#000" stroke-width="3.15"/>
<rect x="406.08" y="1109.99" width="23.85" height="24.45" fill="#fff" stroke="#000" stroke-width="3.15"/>
<rect x="391.42" y="1110.08" width="23.85" height="24.45" fill="#fff" stroke="#000" stroke-width="3.15"/>
<rect x="376.76" y="1110.78" width="23.85" height="24.45" fill="#fff" stroke="#000" stroke-width="3.15"/>
<rect x="362.09" y="1110.88" width="23.85" height="24.45" fill="#fff" stroke="#000" stroke-width="3.15"/>
<rect x="355.57" y="1110.88" width="23.85" height="24.45" fill="#fff" stroke="#000" stroke-width="3.15"/>
</g>
<rect x="1268.20" y="827.00" width="5.80" height="26.75" rx="2" ry="2" fill="#000"/>
<g shape-rendering="geometricPrecision">
<rect x="1250.10" y="410.90" width="27.0" height="28.2" fill="#000"/>
<rect x="1235.45" y="410.90" width="27.0" height="28.2" fill="#000"/>
<rect x="1220.80" y="410.90" width="27.0" height="28.2" fill="#000"/>
<rect x="1206.15" y="410.90" width="27.0" height="28.2" fill="#000"/>
<rect x="1191.50" y="410.90" width="27.0" height="28.2" fill="#000"/>
<rect x="1176.85" y="410.90" width="27.0" height="28.2" fill="#000"/>
<rect x="1162.20" y="410.90" width="27.0" height="28.2" fill="#000"/>
<rect x="1147.55" y="410.90" width="27.0" height="28.2" fill="#000"/>
<rect x="1132.90" y="410.90" width="27.0" height="28.2" fill="#000"/>
<rect x="1118.25" y="410.90" width="27.0" height="28.2" fill="#000"/>
<rect x="1103.60" y="410.90" width="27.0" height="28.2" fill="#000"/>
<rect x="1088.95" y="410.90" width="27.0" height="28.2" fill="#000"/>
<rect x="1074.30" y="410.90" width="27.0" height="28.2" fill="#000"/>
<rect x="1059.65" y="410.89" width="27.0" height="28.2" fill="#000"/>
<rect x="1045.00" y="410.87" width="27.0" height="28.2" fill="#000"/>
<rect x="1030.35" y="410.83" width="27.0" height="28.2" fill="#000"/>
<rect x="1015.70" y="410.78" width="27.0" height="28.2" fill="#000"/>
<rect x="1001.05" y="410.72" width="27.0" height="28.2" fill="#000"/>
<rect x="986.40" y="410.65" width="27.0" height="28.2" fill="#000"/>
<rect x="971.75" y="410.58" width="27.0" height="28.2" fill="#000"/>
<rect x="957.10" y="410.50" width="27.0" height="28.2" fill="#000"/>
<rect x="942.45" y="410.40" width="27.0" height="28.2" fill="#000"/>
<rect x="927.80" y="410.27" width="27.0" height="28.2" fill="#000"/>
<rect x="913.15" y="410.10" width="27.0" height="28.2" fill="#000"/>
<rect x="898.50" y="409.90" width="27.0" height="28.2" fill="#000"/>
<rect x="883.85" y="409.66" width="27.0" height="28.2" fill="#000"/>
<rect x="869.20" y="409.33" width="27.0" height="28.2" fill="#000"/>
<rect x="854.55" y="408.90" width="27.0" height="28.2" fill="#000"/>
<rect x="839.90" y="408.15" width="27.0" height="28.2" fill="#000"/>
<rect x="825.25" y="407.40" width="27.0" height="28.2" fill="#000"/>
<rect x="810.60" y="406.40" width="27.0" height="28.2" fill="#000"/>
<rect x="795.95" y="405.15" width="27.0" height="28.2" fill="#000"/>
<rect x="781.30" y="403.40" width="27.0" height="28.2" fill="#000"/>
<rect x="766.65" y="401.65" width="27.0" height="28.2" fill="#000"/>
<rect x="752.00" y="399.65" width="27.0" height="28.2" fill="#000"/>
<rect x="737.35" y="397.15" width="27.0" height="28.2" fill="#000"/>
<rect x="722.70" y="393.50" width="27.0" height="28.2" fill="#000"/>
<rect x="708.05" y="389.65" width="27.0" height="28.2" fill="#000"/>
<rect x="693.40" y="384.65" width="27.0" height="28.2" fill="#000"/>
<rect x="678.75" y="378.90" width="27.0" height="28.2" fill="#000"/>
<rect x="664.10" y="371.65" width="27.0" height="28.2" fill="#000"/>
<rect x="649.45" y="364.15" width="27.0" height="28.2" fill="#000"/>
<rect x="634.80" y="354.65" width="27.0" height="28.2" fill="#000"/>
<rect x="620.15" y="343.90" width="27.0" height="28.2" fill="#000"/>
<rect x="605.50" y="332.65" width="27.0" height="28.2" fill="#000"/>
<rect x="590.85" y="320.90" width="27.0" height="28.2" fill="#000"/>
<rect x="576.20" y="307.15" width="27.0" height="28.2" fill="#000"/>
<rect x="561.55" y="293.40" width="27.0" height="28.2" fill="#000"/>
<rect x="546.90" y="279.65" width="27.0" height="28.2" fill="#000"/>
<rect x="532.25" y="266.90" width="27.0" height="28.2" fill="#000"/>
<rect x="517.60" y="253.90" width="27.0" height="28.2" fill="#000"/>
<rect x="502.95" y="242.15" width="27.0" height="28.2" fill="#000"/>
<rect x="488.30" y="231.90" width="27.0" height="28.2" fill="#000"/>
<rect x="473.65" y="221.65" width="27.0" height="28.2" fill="#000"/>
<rect x="459.00" y="214.65" width="27.0" height="28.2" fill="#000"/>
<rect x="444.35" y="207.65" width="27.0" height="28.2" fill="#000"/>
<rect x="429.70" y="203.40" width="27.0" height="28.2" fill="#000"/>
<rect x="415.05" y="203.00" width="27.0" height="28.2" fill="#000"/>
<rect x="400.40" y="204.00" width="27.0" height="28.2" fill="#000"/>
<rect x="385.75" y="206.65" width="27.0" height="28.2" fill="#000"/>
<rect x="371.10" y="212.50" width="27.0" height="28.2" fill="#000"/>
<rect x="356.45" y="219.50" width="27.0" height="28.2" fill="#000"/>
<rect x="349.90" y="225.40" width="27.0" height="28.2" fill="#000"/>
</g>
<line x1="1211.2" y1="123.2" x2="1215.3" y2="137" stroke="#000" stroke-width="3"/>
<g shape-rendering="geometricPrecision">
<rect x="1251.67" y="180.77" width="23.85" height="24.45" fill="#fff" stroke="#000" stroke-width="3.15"/>
<rect x="1237.02" y="175.02" width="23.85" height="24.45" fill="#fff" stroke="#000" stroke-width="3.15"/>
<rect x="1222.38" y="157.02" width="23.85" height="24.45" fill="#fff" stroke="#000" stroke-width="3.15"/>
<rect x="1207.72" y="143.77" width="23.85" height="24.45" fill="#fff" stroke="#000" stroke-width="3.15"/>
<rect x="1193.08" y="92.03" width="23.85" height="24.45" fill="#fff" stroke="#000" stroke-width="3.15"/>
<rect x="1178.42" y="96.78" width="23.85" height="24.45" fill="#fff" stroke="#000" stroke-width="3.15"/>
<rect x="1163.77" y="75.03" width="23.85" height="24.45" fill="#fff" stroke="#000" stroke-width="3.15"/>
<rect x="1149.12" y="64.28" width="23.85" height="24.45" fill="#fff" stroke="#000" stroke-width="3.15"/>
<rect x="1134.47" y="57.03" width="23.85" height="24.45" fill="#fff" stroke="#000" stroke-width="3.15"/>
<rect x="1119.83" y="62.03" width="23.85" height="24.45" fill="#fff" stroke="#000" stroke-width="3.15"/>
<rect x="1105.17" y="72.03" width="23.85" height="24.45" fill="#fff" stroke="#000" stroke-width="3.15"/>
<rect x="1090.52" y="88.03" width="23.85" height="24.45" fill="#fff" stroke="#000" stroke-width="3.15"/>
<rect x="1075.88" y="108.28" width="23.85" height="24.45" fill="#fff" stroke="#000" stroke-width="3.15"/>
<rect x="1061.22" y="133.02" width="23.85" height="24.45" fill="#fff" stroke="#000" stroke-width="3.15"/>
<rect x="1046.58" y="158.77" width="23.85" height="24.45" fill="#fff" stroke="#000" stroke-width="3.15"/>
<rect x="1031.92" y="188.17" width="23.85" height="24.45" fill="#fff" stroke="#000" stroke-width="3.15"/>
<rect x="1017.27" y="214.02" width="23.85" height="24.45" fill="#fff" stroke="#000" stroke-width="3.15"/>
<rect x="1002.62" y="240.52" width="23.85" height="24.45" fill="#fff" stroke="#000" stroke-width="3.15"/>
<rect x="987.97" y="262.02" width="23.85" height="24.45" fill="#fff" stroke="#000" stroke-width="3.15"/>
<rect x="973.32" y="281.27" width="23.85" height="24.45" fill="#fff" stroke="#000" stroke-width="3.15"/>
<rect x="958.67" y="297.02" width="23.85" height="24.45" fill="#fff" stroke="#000" stroke-width="3.15"/>
<rect x="944.02" y="311.27" width="23.85" height="24.45" fill="#fff" stroke="#000" stroke-width="3.15"/>
<rect x="929.38" y="321.77" width="23.85" height="24.45" fill="#fff" stroke="#000" stroke-width="3.15"/>
<rect x="914.72" y="330.02" width="23.85" height="24.45" fill="#fff" stroke="#000" stroke-width="3.15"/>
<rect x="900.07" y="336.77" width="23.85" height="24.45" fill="#fff" stroke="#000" stroke-width="3.15"/>
<rect x="885.42" y="339.77" width="23.85" height="24.45" fill="#fff" stroke="#000" stroke-width="3.15"/>
<rect x="870.77" y="341.52" width="23.85" height="24.45" fill="#fff" stroke="#000" stroke-width="3.15"/>
<rect x="856.12" y="343.27" width="23.85" height="24.45" fill="#fff" stroke="#000" stroke-width="3.15"/>
<rect x="841.47" y="343.02" width="23.85" height="24.45" fill="#fff" stroke="#000" stroke-width="3.15"/>
<rect x="826.82" y="340.02" width="23.85" height="24.45" fill="#fff" stroke="#000" stroke-width="3.15"/>
<rect x="812.17" y="335.02" width="23.85" height="24.45" fill="#fff" stroke="#000" stroke-width="3.15"/>
<rect x="797.52" y="328.77" width="23.85" height="24.45" fill="#fff" stroke="#000" stroke-width="3.15"/>
<rect x="782.88" y="320.02" width="23.85" height="24.45" fill="#fff" stroke="#000" stroke-width="3.15"/>
<rect x="768.22" y="311.27" width="23.85" height="24.45" fill="#fff" stroke="#000" stroke-width="3.15"/>
<rect x="753.57" y="298.77" width="23.85" height="24.45" fill="#fff" stroke="#000" stroke-width="3.15"/>
<rect x="738.92" y="286.27" width="23.85" height="24.45" fill="#fff" stroke="#000" stroke-width="3.15"/>
<rect x="724.27" y="272.52" width="23.85" height="24.45" fill="#fff" stroke="#000" stroke-width="3.15"/>
<rect x="709.62" y="259.27" width="23.85" height="24.45" fill="#fff" stroke="#000" stroke-width="3.15"/>
<rect x="694.97" y="246.02" width="23.85" height="24.45" fill="#fff" stroke="#000" stroke-width="3.15"/>
<rect x="680.32" y="233.27" width="23.85" height="24.45" fill="#fff" stroke="#000" stroke-width="3.15"/>
<rect x="665.67" y="223.27" width="23.85" height="24.45" fill="#fff" stroke="#000" stroke-width="3.15"/>
<rect x="651.02" y="213.77" width="23.85" height="24.45" fill="#fff" stroke="#000" stroke-width="3.15"/>
<rect x="636.37" y="208.77" width="23.85" height="24.45" fill="#fff" stroke="#000" stroke-width="3.15"/>
<rect x="621.72" y="205.52" width="23.85" height="24.45" fill="#fff" stroke="#000" stroke-width="3.15"/>
<rect x="607.07" y="205.02" width="23.85" height="24.45" fill="#fff" stroke="#000" stroke-width="3.15"/>
<rect x="592.42" y="208.02" width="23.85" height="24.45" fill="#fff" stroke="#000" stroke-width="3.15"/>
<rect x="577.77" y="213.77" width="23.85" height="24.45" fill="#fff" stroke="#000" stroke-width="3.15"/>
<rect x="563.12" y="221.27" width="23.85" height="24.45" fill="#fff" stroke="#000" stroke-width="3.15"/>
<rect x="548.47" y="231.27" width="23.85" height="24.45" fill="#fff" stroke="#000" stroke-width="3.15"/>
<rect x="533.82" y="243.27" width="23.85" height="24.45" fill="#fff" stroke="#000" stroke-width="3.15"/>
<rect x="519.17" y="258.02" width="23.85" height="24.45" fill="#fff" stroke="#000" stroke-width="3.15"/>
<rect x="504.52" y="271.77" width="23.85" height="24.45" fill="#fff" stroke="#000" stroke-width="3.15"/>
<rect x="489.87" y="285.77" width="23.85" height="24.45" fill="#fff" stroke="#000" stroke-width="3.15"/>
<rect x="475.22" y="300.02" width="23.85" height="24.45" fill="#fff" stroke="#000" stroke-width="3.15"/>
<rect x="460.57" y="314.27" width="23.85" height="24.45" fill="#fff" stroke="#000" stroke-width="3.15"/>
<rect x="445.92" y="327.02" width="23.85" height="24.45" fill="#fff" stroke="#000" stroke-width="3.15"/>
<rect x="431.27" y="339.27" width="23.85" height="24.45" fill="#fff" stroke="#000" stroke-width="3.15"/>
<rect x="416.62" y="350.02" width="23.85" height="24.45" fill="#fff" stroke="#000" stroke-width="3.15"/>
<rect x="401.97" y="360.02" width="23.85" height="24.45" fill="#fff" stroke="#000" stroke-width="3.15"/>
<rect x="387.32" y="368.77" width="23.85" height="24.45" fill="#fff" stroke="#000" stroke-width="3.15"/>
<rect x="372.67" y="376.27" width="23.85" height="24.45" fill="#fff" stroke="#000" stroke-width="3.15"/>
<rect x="358.02" y="382.52" width="23.85" height="24.45" fill="#fff" stroke="#000" stroke-width="3.15"/>
<rect x="351.47" y="385.27" width="23.85" height="24.45" fill="#fff" stroke="#000" stroke-width="3.15"/>
</g>
<g shape-rendering="geometricPrecision">
<rect x="1256.90" y="793.90" width="27.0" height="28.2" fill="#000"/>
<rect x="1242.20" y="793.85" width="27.0" height="28.2" fill="#000"/>
<rect x="1227.50" y="793.78" width="27.0" height="28.2" fill="#000"/>
<rect x="1212.81" y="793.70" width="27.0" height="28.2" fill="#000"/>
<rect x="1198.11" y="793.61" width="27.0" height="28.2" fill="#000"/>
<rect x="1183.41" y="793.51" width="27.0" height="28.2" fill="#000"/>
<rect x="1168.71" y="793.40" width="27.0" height="28.2" fill="#000"/>
<rect x="1154.01" y="793.28" width="27.0" height="28.2" fill="#000"/>
<rect x="1139.32" y="793.13" width="27.0" height="28.2" fill="#000"/>
<rect x="1124.62" y="792.97" width="27.0" height="28.2" fill="#000"/>
<rect x="1109.92" y="792.79" width="27.0" height="28.2" fill="#000"/>
<rect x="1095.22" y="792.60" width="27.0" height="28.2" fill="#000"/>
<rect x="1080.52" y="792.40" width="27.0" height="28.2" fill="#000"/>
<rect x="1065.83" y="792.19" width="27.0" height="28.2" fill="#000"/>
<rect x="1051.13" y="791.97" width="27.0" height="28.2" fill="#000"/>
<rect x="1036.43" y="791.71" width="27.0" height="28.2" fill="#000"/>
<rect x="1021.73" y="791.40" width="27.0" height="28.2" fill="#000"/>
<rect x="1007.03" y="791.03" width="27.0" height="28.2" fill="#000"/>
<rect x="992.34" y="790.59" width="27.0" height="28.2" fill="#000"/>
<rect x="977.64" y="790.06" width="27.0" height="28.2" fill="#000"/>
<rect x="962.94" y="789.42" width="27.0" height="28.2" fill="#000"/>
<rect x="948.24" y="788.65" width="27.0" height="28.2" fill="#000"/>
<rect x="933.54" y="787.40" width="27.0" height="28.2" fill="#000"/>
<rect x="918.85" y="785.65" width="27.0" height="28.2" fill="#000"/>
<rect x="904.15" y="783.65" width="27.0" height="28.2" fill="#000"/>
<rect x="889.45" y="781.15" width="27.0" height="28.2" fill="#000"/>
<rect x="874.75" y="777.40" width="27.0" height="28.2" fill="#000"/>
<rect x="860.05" y="773.15" width="27.0" height="28.2" fill="#000"/>
<rect x="845.36" y="768.15" width="27.0" height="28.2" fill="#000"/>
<rect x="830.66" y="762.40" width="27.0" height="28.2" fill="#000"/>
<rect x="815.96" y="754.90" width="27.0" height="28.2" fill="#000"/>
<rect x="801.26" y="746.90" width="27.0" height="28.2" fill="#000"/>
<rect x="786.56" y="735.65" width="27.0" height="28.2" fill="#000"/>
<rect x="771.87" y="724.90" width="27.0" height="28.2" fill="#000"/>
<rect x="757.17" y="709.90" width="27.0" height="28.2" fill="#000"/>
<rect x="742.47" y="694.90" width="27.0" height="28.2" fill="#000"/>
<rect x="727.77" y="679.90" width="27.0" height="28.2" fill="#000"/>
<rect x="713.07" y="662.40" width="27.0" height="28.2" fill="#000"/>
<rect x="698.38" y="646.65" width="27.0" height="28.2" fill="#000"/>
<rect x="683.68" y="632.40" width="27.0" height="28.2" fill="#000"/>
<rect x="668.98" y="619.40" width="27.0" height="28.2" fill="#000"/>
<rect x="654.28" y="611.40" width="27.0" height="28.2" fill="#000"/>
<rect x="639.58" y="605.65" width="27.0" height="28.2" fill="#000"/>
<rect x="624.89" y="603.65" width="27.0" height="28.2" fill="#000"/>
<rect x="610.19" y="605.65" width="27.0" height="28.2" fill="#000"/>
<rect x="595.49" y="611.40" width="27.0" height="28.2" fill="#000"/>
<rect x="580.79" y="619.40" width="27.0" height="28.2" fill="#000"/>
<rect x="566.09" y="629.40" width="27.0" height="28.2" fill="#000"/>
<rect x="551.40" y="642.65" width="27.0" height="28.2" fill="#000"/>
<rect x="536.70" y="655.65" width="27.0" height="28.2" fill="#000"/>
<rect x="522.00" y="668.65" width="27.0" height="28.2" fill="#000"/>
<rect x="507.30" y="681.40" width="27.0" height="28.2" fill="#000"/>
<rect x="492.60" y="694.40" width="27.0" height="28.2" fill="#000"/>
<rect x="477.91" y="705.65" width="27.0" height="28.2" fill="#000"/>
<rect x="463.21" y="716.90" width="27.0" height="28.2" fill="#000"/>
<rect x="448.51" y="725.65" width="27.0" height="28.2" fill="#000"/>
<rect x="433.81" y="733.65" width="27.0" height="28.2" fill="#000"/>
<rect x="419.11" y="741.40" width="27.0" height="28.2" fill="#000"/>
<rect x="404.42" y="747.40" width="27.0" height="28.2" fill="#000"/>
<rect x="389.72" y="752.65" width="27.0" height="28.2" fill="#000"/>
<rect x="375.02" y="758.15" width="27.0" height="28.2" fill="#000"/>
<rect x="360.32" y="762.40" width="27.0" height="28.2" fill="#000"/>
<rect x="354.10" y="764.40" width="27.0" height="28.2" fill="#000"/>
</g>
<g shape-rendering="geometricPrecision">
<rect x="1258.48" y="460.77" width="23.85" height="24.45" fill="#fff" stroke="#000" stroke-width="3.15"/>
<rect x="1243.78" y="469.52" width="23.85" height="24.45" fill="#fff" stroke="#000" stroke-width="3.15"/>
<rect x="1229.08" y="473.77" width="23.85" height="24.45" fill="#fff" stroke="#000" stroke-width="3.15"/>
<rect x="1214.38" y="483.77" width="23.85" height="24.45" fill="#fff" stroke="#000" stroke-width="3.15"/>
<rect x="1199.68" y="480.02" width="23.85" height="24.45" fill="#fff" stroke="#000" stroke-width="3.15"/>
<rect x="1184.99" y="511.27" width="23.85" height="24.45" fill="#fff" stroke="#000" stroke-width="3.15"/>
<rect x="1170.29" y="527.03" width="23.85" height="24.45" fill="#fff" stroke="#000" stroke-width="3.15"/>
<rect x="1155.59" y="548.28" width="23.85" height="24.45" fill="#fff" stroke="#000" stroke-width="3.15"/>
<rect x="1140.89" y="569.28" width="23.85" height="24.45" fill="#fff" stroke="#000" stroke-width="3.15"/>
<rect x="1126.19" y="593.78" width="23.85" height="24.45" fill="#fff" stroke="#000" stroke-width="3.15"/>
<rect x="1111.50" y="616.28" width="23.85" height="24.45" fill="#fff" stroke="#000" stroke-width="3.15"/>
<rect x="1096.80" y="635.78" width="23.85" height="24.45" fill="#fff" stroke="#000" stroke-width="3.15"/>
<rect x="1082.10" y="654.03" width="23.85" height="24.45" fill="#fff" stroke="#000" stroke-width="3.15"/>
<rect x="1067.40" y="670.03" width="23.85" height="24.45" fill="#fff" stroke="#000" stroke-width="3.15"/>
<rect x="1052.70" y="682.03" width="23.85" height="24.45" fill="#fff" stroke="#000" stroke-width="3.15"/>
<rect x="1038.01" y="693.03" width="23.85" height="24.45" fill="#fff" stroke="#000" stroke-width="3.15"/>
<rect x="1023.31" y="700.03" width="23.85" height="24.45" fill="#fff" stroke="#000" stroke-width="3.15"/>
<rect x="1008.61" y="705.03" width="23.85" height="24.45" fill="#fff" stroke="#000" stroke-width="3.15"/>
<rect x="993.91" y="707.28" width="23.85" height="24.45" fill="#fff" stroke="#000" stroke-width="3.15"/>
<rect x="979.21" y="708.28" width="23.85" height="24.45" fill="#fff" stroke="#000" stroke-width="3.15"/>
<rect x="964.52" y="707.53" width="23.85" height="24.45" fill="#fff" stroke="#000" stroke-width="3.15"/>
<rect x="949.82" y="704.53" width="23.85" height="24.45" fill="#fff" stroke="#000" stroke-width="3.15"/>
<rect x="935.12" y="698.78" width="23.85" height="24.45" fill="#fff" stroke="#000" stroke-width="3.15"/>
<rect x="920.42" y="692.03" width="23.85" height="24.45" fill="#fff" stroke="#000" stroke-width="3.15"/>
<rect x="905.72" y="684.28" width="23.85" height="24.45" fill="#fff" stroke="#000" stroke-width="3.15"/>
<rect x="891.03" y="674.28" width="23.85" height="24.45" fill="#fff" stroke="#000" stroke-width="3.15"/>
<rect x="876.33" y="663.78" width="23.85" height="24.45" fill="#fff" stroke="#000" stroke-width="3.15"/>
<rect x="861.63" y="654.28" width="23.85" height="24.45" fill="#fff" stroke="#000" stroke-width="3.15"/>
<rect x="846.93" y="645.03" width="23.85" height="24.45" fill="#fff" stroke="#000" stroke-width="3.15"/>
<rect x="832.23" y="635.78" width="23.85" height="24.45" fill="#fff" stroke="#000" stroke-width="3.15"/>
<rect x="817.54" y="628.03" width="23.85" height="24.45" fill="#fff" stroke="#000" stroke-width="3.15"/>
<rect x="802.84" y="621.28" width="23.85" height="24.45" fill="#fff" stroke="#000" stroke-width="3.15"/>
<rect x="788.14" y="615.03" width="23.85" height="24.45" fill="#fff" stroke="#000" stroke-width="3.15"/>
<rect x="773.44" y="611.28" width="23.85" height="24.45" fill="#fff" stroke="#000" stroke-width="3.15"/>
<rect x="758.74" y="608.03" width="23.85" height="24.45" fill="#fff" stroke="#000" stroke-width="3.15"/>
<rect x="744.05" y="607.03" width="23.85" height="24.45" fill="#fff" stroke="#000" stroke-width="3.15"/>
<rect x="729.35" y="606.28" width="23.85" height="24.45" fill="#fff" stroke="#000" stroke-width="3.15"/>
<rect x="714.65" y="607.53" width="23.85" height="24.45" fill="#fff" stroke="#000" stroke-width="3.15"/>
<rect x="699.95" y="613.18" width="23.85" height="24.45" fill="#fff" stroke="#000" stroke-width="3.15"/>
<rect x="685.25" y="621.28" width="23.85" height="24.45" fill="#fff" stroke="#000" stroke-width="3.15"/>
<rect x="670.56" y="632.03" width="23.85" height="24.45" fill="#fff" stroke="#000" stroke-width="3.15"/>
<rect x="655.86" y="644.53" width="23.85" height="24.45" fill="#fff" stroke="#000" stroke-width="3.15"/>
<rect x="641.16" y="659.28" width="23.85" height="24.45" fill="#fff" stroke="#000" stroke-width="3.15"/>
<rect x="626.46" y="675.53" width="23.85" height="24.45" fill="#fff" stroke="#000" stroke-width="3.15"/>
<rect x="611.76" y="691.28" width="23.85" height="24.45" fill="#fff" stroke="#000" stroke-width="3.15"/>
<rect x="597.07" y="705.78" width="23.85" height="24.45" fill="#fff" stroke="#000" stroke-width="3.15"/>
<rect x="582.37" y="720.03" width="23.85" height="24.45" fill="#fff" stroke="#000" stroke-width="3.15"/>
<rect x="567.67" y="733.28" width="23.85" height="24.45" fill="#fff" stroke="#000" stroke-width="3.15"/>
<rect x="552.97" y="744.28" width="23.85" height="24.45" fill="#fff" stroke="#000" stroke-width="3.15"/>
<rect x="538.27" y="754.28" width="23.85" height="24.45" fill="#fff" stroke="#000" stroke-width="3.15"/>
<rect x="523.58" y="762.53" width="23.85" height="24.45" fill="#fff" stroke="#000" stroke-width="3.15"/>
<rect x="508.88" y="768.78" width="23.85" height="24.45" fill="#fff" stroke="#000" stroke-width="3.15"/>
<rect x="494.18" y="773.78" width="23.85" height="24.45" fill="#fff" stroke="#000" stroke-width="3.15"/>
<rect x="479.48" y="778.28" width="23.85" height="24.45" fill="#fff" stroke="#000" stroke-width="3.15"/>
<rect x="464.78" y="781.28" width="23.85" height="24.45" fill="#fff" stroke="#000" stroke-width="3.15"/>
<rect x="450.09" y="783.78" width="23.85" height="24.45" fill="#fff" stroke="#000" stroke-width="3.15"/>
<rect x="435.39" y="786.28" width="23.85" height="24.45" fill="#fff" stroke="#000" stroke-width="3.15"/>
<rect x="420.69" y="788.78" width="23.85" height="24.45" fill="#fff" stroke="#000" stroke-width="3.15"/>
<rect x="405.99" y="790.03" width="23.85" height="24.45" fill="#fff" stroke="#000" stroke-width="3.15"/>
<rect x="391.29" y="791.28" width="23.85" height="24.45" fill="#fff" stroke="#000" stroke-width="3.15"/>
<rect x="376.60" y="792.53" width="23.85" height="24.45" fill="#fff" stroke="#000" stroke-width="3.15"/>
<rect x="361.90" y="793.03" width="23.85" height="24.45" fill="#fff" stroke="#000" stroke-width="3.15"/>
<rect x="355.68" y="793.53" width="23.85" height="24.45" fill="#fff" stroke="#000" stroke-width="3.15"/>
</g>
<g clip-path="url(#c4)" shape-rendering="geometricPrecision">
<rect x="1257.50" y="1516.40" width="27.0" height="28.2" fill="#000"/>
<rect x="1242.91" y="1515.40" width="27.0" height="28.2" fill="#000"/>
<rect x="1228.32" y="1514.15" width="27.0" height="28.2" fill="#000"/>
<rect x="1213.73" y="1511.15" width="27.0" height="28.2" fill="#000"/>
<rect x="1199.14" y="1508.15" width="27.0" height="28.2" fill="#000"/>
<rect x="1184.55" y="1505.40" width="27.0" height="28.2" fill="#000"/>
<rect x="1169.96" y="1501.15" width="27.0" height="28.2" fill="#000"/>
<rect x="1155.37" y="1495.40" width="27.0" height="28.2" fill="#000"/>
<rect x="1140.78" y="1489.15" width="27.0" height="28.2" fill="#000"/>
<rect x="1126.19" y="1481.15" width="27.0" height="28.2" fill="#000"/>
<rect x="1111.60" y="1472.40" width="27.0" height="28.2" fill="#000"/>
<rect x="1097.01" y="1461.15" width="27.0" height="28.2" fill="#000"/>
<rect x="1082.42" y="1448.15" width="27.0" height="28.2" fill="#000"/>
<rect x="1067.83" y="1432.40" width="27.0" height="28.2" fill="#000"/>
<rect x="1053.24" y="1414.15" width="27.0" height="28.2" fill="#000"/>
<rect x="1038.65" y="1394.15" width="27.0" height="28.2" fill="#000"/>
<rect x="1024.06" y="1372.15" width="27.0" height="28.2" fill="#000"/>
<rect x="1009.47" y="1347.15" width="27.0" height="28.2" fill="#000"/>
<rect x="994.88" y="1323.15" width="27.0" height="28.2" fill="#000"/>
<rect x="980.29" y="1299.90" width="27.0" height="28.2" fill="#000"/>
<rect x="965.70" y="1280.90" width="27.0" height="28.2" fill="#000"/>
<rect x="951.11" y="1266.90" width="27.0" height="28.2" fill="#000"/>
<rect x="936.52" y="1260.65" width="27.0" height="28.2" fill="#000"/>
<rect x="921.93" y="1261.90" width="27.0" height="28.2" fill="#000"/>
<rect x="907.34" y="1269.90" width="27.0" height="28.2" fill="#000"/>
<rect x="892.75" y="1282.65" width="27.0" height="28.2" fill="#000"/>
<rect x="878.16" y="1299.40" width="27.0" height="28.2" fill="#000"/>
<rect x="863.57" y="1319.90" width="27.0" height="28.2" fill="#000"/>
<rect x="848.98" y="1340.65" width="27.0" height="28.2" fill="#000"/>
<rect x="834.39" y="1362.65" width="27.0" height="28.2" fill="#000"/>
<rect x="819.80" y="1383.65" width="27.0" height="28.2" fill="#000"/>
<rect x="805.21" y="1403.90" width="27.0" height="28.2" fill="#000"/>
<rect x="790.62" y="1421.90" width="27.0" height="28.2" fill="#000"/>
<rect x="776.03" y="1437.65" width="27.0" height="28.2" fill="#000"/>
<rect x="761.44" y="1451.90" width="27.0" height="28.2" fill="#000"/>
<rect x="746.85" y="1462.65" width="27.0" height="28.2" fill="#000"/>
<rect x="732.26" y="1473.15" width="27.0" height="28.2" fill="#000"/>
<rect x="717.67" y="1481.65" width="27.0" height="28.2" fill="#000"/>
<rect x="703.08" y="1488.90" width="27.0" height="28.2" fill="#000"/>
<rect x="688.49" y="1495.65" width="27.0" height="28.2" fill="#000"/>
<rect x="673.90" y="1499.40" width="27.0" height="28.2" fill="#000"/>
<rect x="659.31" y="1502.65" width="27.0" height="28.2" fill="#000"/>
<rect x="644.72" y="1505.15" width="27.0" height="28.2" fill="#000"/>
<rect x="630.13" y="1506.90" width="27.0" height="28.2" fill="#000"/>
<rect x="615.54" y="1509.40" width="27.0" height="28.2" fill="#000"/>
<rect x="600.95" y="1510.65" width="27.0" height="28.2" fill="#000"/>
<rect x="586.36" y="1511.93" width="27.0" height="28.2" fill="#000"/>
<rect x="571.77" y="1513.15" width="27.0" height="28.2" fill="#000"/>
<rect x="557.18" y="1514.19" width="27.0" height="28.2" fill="#000"/>
<rect x="542.59" y="1515.15" width="27.0" height="28.2" fill="#000"/>
<rect x="528.00" y="1516.05" width="27.0" height="28.2" fill="#000"/>
<rect x="513.41" y="1516.90" width="27.0" height="28.2" fill="#000"/>
<rect x="498.82" y="1517.70" width="27.0" height="28.2" fill="#000"/>
<rect x="484.23" y="1518.45" width="27.0" height="28.2" fill="#000"/>
<rect x="469.64" y="1519.19" width="27.0" height="28.2" fill="#000"/>
<rect x="455.05" y="1519.93" width="27.0" height="28.2" fill="#000"/>
<rect x="440.46" y="1520.70" width="27.0" height="28.2" fill="#000"/>
<rect x="425.87" y="1521.50" width="27.0" height="28.2" fill="#000"/>
<rect x="411.28" y="1521.62" width="27.0" height="28.2" fill="#000"/>
<rect x="396.69" y="1521.67" width="27.0" height="28.2" fill="#000"/>
<rect x="382.10" y="1521.80" width="27.0" height="28.2" fill="#000"/>
<rect x="367.51" y="1522.90" width="27.0" height="28.2" fill="#000"/>
<rect x="361.00" y="1522.90" width="27.0" height="28.2" fill="#000"/>
</g>
<g clip-path="url(#c4)" shape-rendering="geometricPrecision">
<rect x="1259.08" y="1117.78" width="23.85" height="24.45" fill="#fff" stroke="#000" stroke-width="3.15"/>
<rect x="1244.49" y="1140.78" width="23.85" height="24.45" fill="#fff" stroke="#000" stroke-width="3.15"/>
<rect x="1229.89" y="1159.28" width="23.85" height="24.45" fill="#fff" stroke="#000" stroke-width="3.15"/>
<rect x="1215.31" y="1177.03" width="23.85" height="24.45" fill="#fff" stroke="#000" stroke-width="3.15"/>
<rect x="1200.72" y="1182.03" width="23.85" height="24.45" fill="#fff" stroke="#000" stroke-width="3.15"/>
<rect x="1186.12" y="1208.28" width="23.85" height="24.45" fill="#fff" stroke="#000" stroke-width="3.15"/>
<rect x="1171.54" y="1218.03" width="23.85" height="24.45" fill="#fff" stroke="#000" stroke-width="3.15"/>
<rect x="1156.94" y="1227.03" width="23.85" height="24.45" fill="#fff" stroke="#000" stroke-width="3.15"/>
<rect x="1142.36" y="1233.03" width="23.85" height="24.45" fill="#fff" stroke="#000" stroke-width="3.15"/>
<rect x="1127.77" y="1236.78" width="23.85" height="24.45" fill="#fff" stroke="#000" stroke-width="3.15"/>
<rect x="1113.17" y="1240.03" width="23.85" height="24.45" fill="#fff" stroke="#000" stroke-width="3.15"/>
<rect x="1098.59" y="1241.78" width="23.85" height="24.45" fill="#fff" stroke="#000" stroke-width="3.15"/>
<rect x="1084.00" y="1243.78" width="23.85" height="24.45" fill="#fff" stroke="#000" stroke-width="3.15"/>
<rect x="1069.40" y="1246.03" width="23.85" height="24.45" fill="#fff" stroke="#000" stroke-width="3.15"/>
<rect x="1054.82" y="1248.03" width="23.85" height="24.45" fill="#fff" stroke="#000" stroke-width="3.15"/>
<rect x="1040.23" y="1250.28" width="23.85" height="24.45" fill="#fff" stroke="#000" stroke-width="3.15"/>
<rect x="1025.63" y="1252.53" width="23.85" height="24.45" fill="#fff" stroke="#000" stroke-width="3.15"/>
<rect x="1011.05" y="1255.53" width="23.85" height="24.45" fill="#fff" stroke="#000" stroke-width="3.15"/>
<rect x="996.46" y="1260.03" width="23.85" height="24.45" fill="#fff" stroke="#000" stroke-width="3.15"/>
<rect x="981.87" y="1268.03" width="23.85" height="24.45" fill="#fff" stroke="#000" stroke-width="3.15"/>
<rect x="967.28" y="1280.03" width="23.85" height="24.45" fill="#fff" stroke="#000" stroke-width="3.15"/>
<rect x="952.69" y="1295.03" width="23.85" height="24.45" fill="#fff" stroke="#000" stroke-width="3.15"/>
<rect x="938.10" y="1314.28" width="23.85" height="24.45" fill="#fff" stroke="#000" stroke-width="3.15"/>
<rect x="923.51" y="1337.03" width="23.85" height="24.45" fill="#fff" stroke="#000" stroke-width="3.15"/>
<rect x="908.92" y="1361.28" width="23.85" height="24.45" fill="#fff" stroke="#000" stroke-width="3.15"/>
<rect x="894.33" y="1385.53" width="23.85" height="24.45" fill="#fff" stroke="#000" stroke-width="3.15"/>
<rect x="879.74" y="1408.03" width="23.85" height="24.45" fill="#fff" stroke="#000" stroke-width="3.15"/>
<rect x="865.14" y="1428.78" width="23.85" height="24.45" fill="#fff" stroke="#000" stroke-width="3.15"/>
<rect x="850.56" y="1447.03" width="23.85" height="24.45" fill="#fff" stroke="#000" stroke-width="3.15"/>
<rect x="835.97" y="1462.03" width="23.85" height="24.45" fill="#fff" stroke="#000" stroke-width="3.15"/>
<rect x="821.38" y="1475.03" width="23.85" height="24.45" fill="#fff" stroke="#000" stroke-width="3.15"/>
<rect x="806.79" y="1485.53" width="23.85" height="24.45" fill="#fff" stroke="#000" stroke-width="3.15"/>
<rect x="792.20" y="1493.28" width="23.85" height="24.45" fill="#fff" stroke="#000" stroke-width="3.15"/>
<rect x="777.61" y="1500.53" width="23.85" height="24.45" fill="#fff" stroke="#000" stroke-width="3.15"/>
<rect x="763.02" y="1505.78" width="23.85" height="24.45" fill="#fff" stroke="#000" stroke-width="3.15"/>
<rect x="748.43" y="1508.78" width="23.85" height="24.45" fill="#fff" stroke="#000" stroke-width="3.15"/>
<rect x="733.84" y="1511.28" width="23.85" height="24.45" fill="#fff" stroke="#000" stroke-width="3.15"/>
<rect x="719.25" y="1513.28" width="23.85" height="24.45" fill="#fff" stroke="#000" stroke-width="3.15"/>
<rect x="704.66" y="1515.03" width="23.85" height="24.45" fill="#fff" stroke="#000" stroke-width="3.15"/>
<rect x="690.07" y="1516.50" width="23.85" height="24.45" fill="#fff" stroke="#000" stroke-width="3.15"/>
<rect x="675.48" y="1517.78" width="23.85" height="24.45" fill="#fff" stroke="#000" stroke-width="3.15"/>
<rect x="660.89" y="1518.85" width="23.85" height="24.45" fill="#fff" stroke="#000" stroke-width="3.15"/>
<rect x="646.30" y="1519.78" width="23.85" height="24.45" fill="#fff" stroke="#000" stroke-width="3.15"/>
<rect x="631.71" y="1520.51" width="23.85" height="24.45" fill="#fff" stroke="#000" stroke-width="3.15"/>
<rect x="617.12" y="1521.12" width="23.85" height="24.45" fill="#fff" stroke="#000" stroke-width="3.15"/>
<rect x="602.53" y="1521.70" width="23.85" height="24.45" fill="#fff" stroke="#000" stroke-width="3.15"/>
<rect x="587.94" y="1522.38" width="23.85" height="24.45" fill="#fff" stroke="#000" stroke-width="3.15"/>
<rect x="573.35" y="1523.28" width="23.85" height="24.45" fill="#fff" stroke="#000" stroke-width="3.15"/>
<rect x="558.76" y="1524.78" width="23.85" height="24.45" fill="#fff" stroke="#000" stroke-width="3.15"/>
<rect x="544.17" y="1524.78" width="23.85" height="24.45" fill="#fff" stroke="#000" stroke-width="3.15"/>
<rect x="529.58" y="1524.78" width="23.85" height="24.45" fill="#fff" stroke="#000" stroke-width="3.15"/>
<rect x="514.99" y="1524.78" width="23.85" height="24.45" fill="#fff" stroke="#000" stroke-width="3.15"/>
<rect x="500.40" y="1524.78" width="23.85" height="24.45" fill="#fff" stroke="#000" stroke-width="3.15"/>
<rect x="485.81" y="1524.78" width="23.85" height="24.45" fill="#fff" stroke="#000" stroke-width="3.15"/>
<rect x="471.21" y="1524.78" width="23.85" height="24.45" fill="#fff" stroke="#000" stroke-width="3.15"/>
<rect x="456.62" y="1524.78" width="23.85" height="24.45" fill="#fff" stroke="#000" stroke-width="3.15"/>
<rect x="442.04" y="1524.78" width="23.85" height="24.45" fill="#fff" stroke="#000" stroke-width="3.15"/>
<rect x="427.44" y="1524.78" width="23.85" height="24.45" fill="#fff" stroke="#000" stroke-width="3.15"/>
<rect x="412.85" y="1524.78" width="23.85" height="24.45" fill="#fff" stroke="#000" stroke-width="3.15"/>
<rect x="398.27" y="1524.78" width="23.85" height="24.45" fill="#fff" stroke="#000" stroke-width="3.15"/>
<rect x="383.68" y="1524.78" width="23.85" height="24.45" fill="#fff" stroke="#000" stroke-width="3.15"/>
<rect x="369.08" y="1524.78" width="23.85" height="24.45" fill="#fff" stroke="#000" stroke-width="3.15"/>
<rect x="362.57" y="1524.78" width="23.85" height="24.45" fill="#fff" stroke="#000" stroke-width="3.15"/>
</g>
<g shape-rendering="geometricPrecision">
<rect x="1257.40" y="1854.65" width="27.0" height="28.2" fill="#000"/>
<rect x="1242.77" y="1849.40" width="27.0" height="28.2" fill="#000"/>
<rect x="1228.13" y="1843.40" width="27.0" height="28.2" fill="#000"/>
<rect x="1213.50" y="1836.90" width="27.0" height="28.2" fill="#000"/>
<rect x="1198.86" y="1829.40" width="27.0" height="28.2" fill="#000"/>
<rect x="1184.23" y="1818.65" width="27.0" height="28.2" fill="#000"/>
<rect x="1169.60" y="1806.90" width="27.0" height="28.2" fill="#000"/>
<rect x="1154.96" y="1794.30" width="27.0" height="28.2" fill="#000"/>
<rect x="1140.33" y="1778.90" width="27.0" height="28.2" fill="#000"/>
<rect x="1125.69" y="1760.65" width="27.0" height="28.2" fill="#000"/>
<rect x="1111.06" y="1739.90" width="27.0" height="28.2" fill="#000"/>
<rect x="1096.43" y="1718.65" width="27.0" height="28.2" fill="#000"/>
<rect x="1081.79" y="1696.90" width="27.0" height="28.2" fill="#000"/>
<rect x="1067.16" y="1674.65" width="27.0" height="28.2" fill="#000"/>
<rect x="1052.52" y="1654.15" width="27.0" height="28.2" fill="#000"/>
<rect x="1037.89" y="1635.90" width="27.0" height="28.2" fill="#000"/>
<rect x="1023.26" y="1618.90" width="27.0" height="28.2" fill="#000"/>
<rect x="1008.62" y="1608.65" width="27.0" height="28.2" fill="#000"/>
<rect x="993.99" y="1602.50" width="27.0" height="28.2" fill="#000"/>
<rect x="979.35" y="1602.50" width="27.0" height="28.2" fill="#000"/>
<rect x="964.72" y="1608.90" width="27.0" height="28.2" fill="#000"/>
<rect x="950.09" y="1619.90" width="27.0" height="28.2" fill="#000"/>
<rect x="935.45" y="1635.65" width="27.0" height="28.2" fill="#000"/>
<rect x="920.82" y="1654.90" width="27.0" height="28.2" fill="#000"/>
<rect x="906.18" y="1676.90" width="27.0" height="28.2" fill="#000"/>
<rect x="891.55" y="1698.65" width="27.0" height="28.2" fill="#000"/>
<rect x="876.92" y="1721.90" width="27.0" height="28.2" fill="#000"/>
<rect x="862.28" y="1741.90" width="27.0" height="28.2" fill="#000"/>
<rect x="847.65" y="1761.40" width="27.0" height="28.2" fill="#000"/>
<rect x="833.01" y="1778.65" width="27.0" height="28.2" fill="#000"/>
<rect x="818.38" y="1792.65" width="27.0" height="28.2" fill="#000"/>
<rect x="803.75" y="1806.40" width="27.0" height="28.2" fill="#000"/>
<rect x="789.11" y="1816.90" width="27.0" height="28.2" fill="#000"/>
<rect x="774.48" y="1826.90" width="27.0" height="28.2" fill="#000"/>
<rect x="759.84" y="1834.40" width="27.0" height="28.2" fill="#000"/>
<rect x="745.21" y="1840.65" width="27.0" height="28.2" fill="#000"/>
<rect x="730.58" y="1845.40" width="27.0" height="28.2" fill="#000"/>
<rect x="715.94" y="1848.90" width="27.0" height="28.2" fill="#000"/>
<rect x="701.31" y="1852.50" width="27.0" height="28.2" fill="#000"/>
<rect x="686.67" y="1856.40" width="27.0" height="28.2" fill="#000"/>
<rect x="672.04" y="1858.90" width="27.0" height="28.2" fill="#000"/>
<rect x="657.41" y="1861.65" width="27.0" height="28.2" fill="#000"/>
<rect x="642.77" y="1863.65" width="27.0" height="28.2" fill="#000"/>
<rect x="628.14" y="1865.15" width="27.0" height="28.2" fill="#000"/>
<rect x="613.50" y="1866.15" width="27.0" height="28.2" fill="#000"/>
<rect x="598.87" y="1866.90" width="27.0" height="28.2" fill="#000"/>
<rect x="584.24" y="1868.15" width="27.0" height="28.2" fill="#000"/>
<rect x="569.60" y="1869.40" width="27.0" height="28.2" fill="#000"/>
<rect x="554.97" y="1869.94" width="27.0" height="28.2" fill="#000"/>
<rect x="540.33" y="1870.30" width="27.0" height="28.2" fill="#000"/>
<rect x="525.70" y="1870.65" width="27.0" height="28.2" fill="#000"/>
<rect x="511.07" y="1870.99" width="27.0" height="28.2" fill="#000"/>
<rect x="496.43" y="1871.32" width="27.0" height="28.2" fill="#000"/>
<rect x="481.80" y="1871.80" width="27.0" height="28.2" fill="#000"/>
<rect x="467.16" y="1872.80" width="27.0" height="28.2" fill="#000"/>
<rect x="452.53" y="1872.83" width="27.0" height="28.2" fill="#000"/>
<rect x="437.90" y="1872.85" width="27.0" height="28.2" fill="#000"/>
<rect x="423.26" y="1872.87" width="27.0" height="28.2" fill="#000"/>
<rect x="408.63" y="1872.88" width="27.0" height="28.2" fill="#000"/>
<rect x="393.99" y="1872.89" width="27.0" height="28.2" fill="#000"/>
<rect x="379.36" y="1872.90" width="27.0" height="28.2" fill="#000"/>
<rect x="364.73" y="1872.90" width="27.0" height="28.2" fill="#000"/>
<rect x="358.00" y="1872.90" width="27.0" height="28.2" fill="#000"/>
</g>
<g shape-rendering="geometricPrecision">
<rect x="1258.98" y="1575.88" width="23.85" height="24.45" fill="#fff" stroke="#000" stroke-width="3.15"/>
<rect x="1244.34" y="1594.68" width="23.85" height="24.45" fill="#fff" stroke="#000" stroke-width="3.15"/>
<rect x="1229.71" y="1603.68" width="23.85" height="24.45" fill="#fff" stroke="#000" stroke-width="3.15"/>
<rect x="1215.07" y="1608.53" width="23.85" height="24.45" fill="#fff" stroke="#000" stroke-width="3.15"/>
<rect x="1200.44" y="1603.78" width="23.85" height="24.45" fill="#fff" stroke="#000" stroke-width="3.15"/>
<rect x="1185.81" y="1609.03" width="23.85" height="24.45" fill="#fff" stroke="#000" stroke-width="3.15"/>
<rect x="1171.17" y="1607.28" width="23.85" height="24.45" fill="#fff" stroke="#000" stroke-width="3.15"/>
<rect x="1156.54" y="1605.53" width="23.85" height="24.45" fill="#fff" stroke="#000" stroke-width="3.15"/>
<rect x="1141.90" y="1603.78" width="23.85" height="24.45" fill="#fff" stroke="#000" stroke-width="3.15"/>
<rect x="1127.27" y="1604.03" width="23.85" height="24.45" fill="#fff" stroke="#000" stroke-width="3.15"/>
<rect x="1112.64" y="1604.28" width="23.85" height="24.45" fill="#fff" stroke="#000" stroke-width="3.15"/>
<rect x="1098.00" y="1608.03" width="23.85" height="24.45" fill="#fff" stroke="#000" stroke-width="3.15"/>
<rect x="1083.37" y="1613.28" width="23.85" height="24.45" fill="#fff" stroke="#000" stroke-width="3.15"/>
<rect x="1068.73" y="1622.03" width="23.85" height="24.45" fill="#fff" stroke="#000" stroke-width="3.15"/>
<rect x="1054.10" y="1634.28" width="23.85" height="24.45" fill="#fff" stroke="#000" stroke-width="3.15"/>
<rect x="1039.47" y="1648.78" width="23.85" height="24.45" fill="#fff" stroke="#000" stroke-width="3.15"/>
<rect x="1024.83" y="1666.28" width="23.85" height="24.45" fill="#fff" stroke="#000" stroke-width="3.15"/>
<rect x="1010.20" y="1685.53" width="23.85" height="24.45" fill="#fff" stroke="#000" stroke-width="3.15"/>
<rect x="995.56" y="1706.53" width="23.85" height="24.45" fill="#fff" stroke="#000" stroke-width="3.15"/>
<rect x="980.93" y="1727.28" width="23.85" height="24.45" fill="#fff" stroke="#000" stroke-width="3.15"/>
<rect x="966.30" y="1747.53" width="23.85" height="24.45" fill="#fff" stroke="#000" stroke-width="3.15"/>
<rect x="951.66" y="1767.28" width="23.85" height="24.45" fill="#fff" stroke="#000" stroke-width="3.15"/>
<rect x="937.03" y="1785.53" width="23.85" height="24.45" fill="#fff" stroke="#000" stroke-width="3.15"/>
<rect x="922.39" y="1801.28" width="23.85" height="24.45" fill="#fff" stroke="#000" stroke-width="3.15"/>
<rect x="907.76" y="1814.53" width="23.85" height="24.45" fill="#fff" stroke="#000" stroke-width="3.15"/>
<rect x="893.13" y="1827.03" width="23.85" height="24.45" fill="#fff" stroke="#000" stroke-width="3.15"/>
<rect x="878.49" y="1836.28" width="23.85" height="24.45" fill="#fff" stroke="#000" stroke-width="3.15"/>
<rect x="863.86" y="1845.03" width="23.85" height="24.45" fill="#fff" stroke="#000" stroke-width="3.15"/>
<rect x="849.22" y="1850.78" width="23.85" height="24.45" fill="#fff" stroke="#000" stroke-width="3.15"/>
<rect x="834.59" y="1857.03" width="23.85" height="24.45" fill="#fff" stroke="#000" stroke-width="3.15"/>
<rect x="819.96" y="1860.78" width="23.85" height="24.45" fill="#fff" stroke="#000" stroke-width="3.15"/>
<rect x="805.32" y="1863.78" width="23.85" height="24.45" fill="#fff" stroke="#000" stroke-width="3.15"/>
<rect x="790.69" y="1865.78" width="23.85" height="24.45" fill="#fff" stroke="#000" stroke-width="3.15"/>
<rect x="776.05" y="1867.53" width="23.85" height="24.45" fill="#fff" stroke="#000" stroke-width="3.15"/>
<rect x="761.42" y="1869.28" width="23.85" height="24.45" fill="#fff" stroke="#000" stroke-width="3.15"/>
<rect x="746.79" y="1870.78" width="23.85" height="24.45" fill="#fff" stroke="#000" stroke-width="3.15"/>
<rect x="732.15" y="1872.28" width="23.85" height="24.45" fill="#fff" stroke="#000" stroke-width="3.15"/>
<rect x="717.52" y="1873.28" width="23.85" height="24.45" fill="#fff" stroke="#000" stroke-width="3.15"/>
<rect x="702.88" y="1874.08" width="23.85" height="24.45" fill="#fff" stroke="#000" stroke-width="3.15"/>
<rect x="688.25" y="1874.48" width="23.85" height="24.45" fill="#fff" stroke="#000" stroke-width="3.15"/>
<rect x="673.62" y="1874.68" width="23.85" height="24.45" fill="#fff" stroke="#000" stroke-width="3.15"/>
<rect x="658.98" y="1874.68" width="23.85" height="24.45" fill="#fff" stroke="#000" stroke-width="3.15"/>
<rect x="644.35" y="1874.68" width="23.85" height="24.45" fill="#fff" stroke="#000" stroke-width="3.15"/>
<rect x="629.71" y="1874.68" width="23.85" height="24.45" fill="#fff" stroke="#000" stroke-width="3.15"/>
<rect x="615.08" y="1874.68" width="23.85" height="24.45" fill="#fff" stroke="#000" stroke-width="3.15"/>
<rect x="600.45" y="1874.68" width="23.85" height="24.45" fill="#fff" stroke="#000" stroke-width="3.15"/>
<rect x="585.81" y="1874.68" width="23.85" height="24.45" fill="#fff" stroke="#000" stroke-width="3.15"/>
<rect x="571.18" y="1874.68" width="23.85" height="24.45" fill="#fff" stroke="#000" stroke-width="3.15"/>
<rect x="556.54" y="1874.68" width="23.85" height="24.45" fill="#fff" stroke="#000" stroke-width="3.15"/>
<rect x="541.91" y="1874.68" width="23.85" height="24.45" fill="#fff" stroke="#000" stroke-width="3.15"/>
<rect x="527.28" y="1874.68" width="23.85" height="24.45" fill="#fff" stroke="#000" stroke-width="3.15"/>
<rect x="512.64" y="1874.68" width="23.85" height="24.45" fill="#fff" stroke="#000" stroke-width="3.15"/>
<rect x="498.01" y="1874.68" width="23.85" height="24.45" fill="#fff" stroke="#000" stroke-width="3.15"/>
<rect x="483.37" y="1874.68" width="23.85" height="24.45" fill="#fff" stroke="#000" stroke-width="3.15"/>
<rect x="468.74" y="1874.68" width="23.85" height="24.45" fill="#fff" stroke="#000" stroke-width="3.15"/>
<rect x="454.11" y="1874.68" width="23.85" height="24.45" fill="#fff" stroke="#000" stroke-width="3.15"/>
<rect x="439.47" y="1874.68" width="23.85" height="24.45" fill="#fff" stroke="#000" stroke-width="3.15"/>
<rect x="424.84" y="1874.68" width="23.85" height="24.45" fill="#fff" stroke="#000" stroke-width="3.15"/>
<rect x="410.20" y="1874.68" width="23.85" height="24.45" fill="#fff" stroke="#000" stroke-width="3.15"/>
<rect x="395.57" y="1874.68" width="23.85" height="24.45" fill="#fff" stroke="#000" stroke-width="3.15"/>
<rect x="380.94" y="1874.68" width="23.85" height="24.45" fill="#fff" stroke="#000" stroke-width="3.15"/>
<rect x="366.30" y="1874.68" width="23.85" height="24.45" fill="#fff" stroke="#000" stroke-width="3.15"/>
<rect x="359.57" y="1874.68" width="23.85" height="24.45" fill="#fff" stroke="#000" stroke-width="3.15"/>
</g>
<rect x="283.45" y="1300.5" width="411.8" height="199" fill="#fff" stroke="#000" stroke-width="3.1"/>
<rect x="298.20" y="1364.00" width="34.80" height="3.00" fill="#000" />
<rect x="366.00" y="1364.00" width="36.00" height="3.00" fill="#000" />
<rect x="335.00" y="1351.90" width="29.00" height="29.10" fill="#000" />
<rect x="298.20" y="1463.10" width="34.80" height="3.00" fill="#000" />
<rect x="366.00" y="1463.10" width="36.00" height="3.00" fill="#000" />
<rect x="335.00" y="1451.00" width="29.00" height="28.75" fill="#000" />
<rect x="338.00" y="1454.00" width="23.00" height="22.75" fill="#fff" />
<text transform="matrix(0.62300 0 0 0.65371 111.37 130.10)" font-family="'Liberation Sans', Arial, Helvetica, sans-serif" font-size="100" font-weight="bold" fill="#000">1.5</text>
<text transform="matrix(0.62300 0 0 0.65724 111.49 233.84)" font-family="'Liberation Sans', Arial, Helvetica, sans-serif" font-size="100" font-weight="bold" fill="#000">1.0</text>
<text transform="matrix(0.62300 0 0 0.66078 111.37 338.09)" font-family="'Liberation Sans', Arial, Helvetica, sans-serif" font-size="100" font-weight="bold" fill="#000">0.5</text>
<text transform="matrix(0.62300 0 0 0.65724 111.64 441.34)" font-family="'Liberation Sans', Arial, Helvetica, sans-serif" font-size="100" font-weight="bold" fill="#000">0.0</text>
<text transform="matrix(0.62300 0 0 0.65371 115.14 874.85)" font-family="'Liberation Sans', Arial, Helvetica, sans-serif" font-size="100" font-weight="bold" fill="#000">1.0</text>
<text transform="matrix(0.62300 0 0 0.66078 115.12 1007.34)" font-family="'Liberation Sans', Arial, Helvetica, sans-serif" font-size="100" font-weight="bold" fill="#000">0.5</text>
<text transform="matrix(0.62300 0 0 0.65724 115.14 1140.09)" font-family="'Liberation Sans', Arial, Helvetica, sans-serif" font-size="100" font-weight="bold" fill="#000">0.0</text>
<text transform="matrix(0.62300 0 0 0.65371 120.14 1633.85)" font-family="'Liberation Sans', Arial, Helvetica, sans-serif" font-size="100" font-weight="bold" fill="#000">1.0</text>
<text transform="matrix(0.62300 0 0 0.66078 120.12 1769.34)" font-family="'Liberation Sans', Arial, Helvetica, sans-serif" font-size="100" font-weight="bold" fill="#000">0.5</text>
<text transform="matrix(0.62300 0 0 0.65724 120.14 1903.84)" font-family="'Liberation Sans', Arial, Helvetica, sans-serif" font-size="100" font-weight="bold" fill="#000">0.0</text>
<text transform="matrix(0.61437 0 0 0.65141 261.58 144.94)" font-family="'Liberation Sans', Arial, Helvetica, sans-serif" font-size="100" font-weight="bold" fill="#000">423 K</text>
<text transform="matrix(0.61248 0 0 0.64789 274.08 563.19)" font-family="'Liberation Sans', Arial, Helvetica, sans-serif" font-size="100" font-weight="bold" fill="#000">473 K</text>
<text transform="matrix(0.60609 0 0 0.65141 270.03 917.94)" font-family="'Liberation Sans', Arial, Helvetica, sans-serif" font-size="100" font-weight="bold" fill="#000">523 K</text>
<text transform="matrix(0.60894 0 0 0.65493 276.77 1259.93)" font-family="'Liberation Sans', Arial, Helvetica, sans-serif" font-size="100" font-weight="bold" fill="#000">573 K</text>
<text transform="matrix(0.61379 0 0 0.65845 281.45 1660.93)" font-family="'Liberation Sans', Arial, Helvetica, sans-serif" font-size="100" font-weight="bold" fill="#000">623 &#160;K</text>
<text transform="matrix(0.77500 0 0 0.78799 192.07 2033.71)" font-family="'Liberation Sans', Arial, Helvetica, sans-serif" font-size="100" font-weight="bold" fill="#000">10</text>
<text transform="matrix(0.37195 0 0 0.47350 278.01 1991.78)" font-family="'Liberation Sans', Arial, Helvetica, sans-serif" font-size="100" font-weight="bold" fill="#000">-1</text>
<text transform="matrix(0.77500 0 0 0.78799 456.57 2033.71)" font-family="'Liberation Sans', Arial, Helvetica, sans-serif" font-size="100" font-weight="bold" fill="#000">10</text>
<text transform="matrix(0.31183 0 0 0.47350 543.05 1991.78)" font-family="'Liberation Sans', Arial, Helvetica, sans-serif" font-size="100" font-weight="bold" fill="#000">1</text>
<text transform="matrix(0.77500 0 0 0.78799 713.33 2033.71)" font-family="'Liberation Sans', Arial, Helvetica, sans-serif" font-size="100" font-weight="bold" fill="#000">10</text>
<text transform="matrix(0.45226 0 0 0.47350 798.98 1991.78)" font-family="'Liberation Sans', Arial, Helvetica, sans-serif" font-size="100" font-weight="bold" fill="#000">3</text>
<text transform="matrix(0.77500 0 0 0.78799 969.48 2033.71)" font-family="'Liberation Sans', Arial, Helvetica, sans-serif" font-size="100" font-weight="bold" fill="#000">10</text>
<text transform="matrix(0.46465 0 0 0.47350 1054.49 1991.78)" font-family="'Liberation Sans', Arial, Helvetica, sans-serif" font-size="100" font-weight="bold" fill="#000">5</text>
<text transform="matrix(0.77500 0 0 0.78799 1225.88 2033.71)" font-family="'Liberation Sans', Arial, Helvetica, sans-serif" font-size="100" font-weight="bold" fill="#000">10</text>
<text transform="matrix(0.51064 0 0 0.47350 1309.83 1991.78)" font-family="'Liberation Sans', Arial, Helvetica, sans-serif" font-size="100" font-weight="bold" fill="#000">7</text>
<text transform="matrix(1.08230 0 0 1.15636 684.36 2165.75)" font-family="'Liberation Sans', Arial, Helvetica, sans-serif" font-size="100" font-weight="bold" fill="#000">f (Hz)</text>
<text transform="matrix(0.53581 0 0 0.55513 416.95 1382.00)" font-family="'Liberation Serif', 'Times New Roman', Times, serif" font-size="100" font-weight="bold" fill="#000">Z&quot;/Z&quot;max</text>
<text transform="matrix(0.53563 0 0 0.56274 419.06 1480.75)" font-family="'Liberation Serif', 'Times New Roman', Times, serif" font-size="100" font-weight="bold" fill="#000">M&quot;/M&quot;max</text>
<g transform="translate(89,826) rotate(-90)">
<text transform="matrix(0.75319 0 0 0.77091 -2.26 0.00)" font-family="'Liberation Sans', Arial, Helvetica, sans-serif" font-size="100" font-weight="bold" fill="#000">Z&quot;/Z&quot;</text>
<text transform="matrix(0.74189 0 0 0.74419 180.18 57.00)" font-family="'Liberation Sans', Arial, Helvetica, sans-serif" font-size="100" font-weight="bold" fill="#000">max</text>
</g>
<g transform="translate(1515,547) rotate(90)">
<text transform="matrix(0.75068 0 0 0.78545 -5.07 0.00)" font-family="'Liberation Sans', Arial, Helvetica, sans-serif" font-size="100" font-weight="bold" fill="#000">M&quot;/M&quot;</text>
<text transform="matrix(0.74397 0 0 0.75349 209.76 61.50)" font-family="'Liberation Sans', Arial, Helvetica, sans-serif" font-size="100" font-weight="bold" fill="#000">max</text>
</g>
</svg>
</body></html>
